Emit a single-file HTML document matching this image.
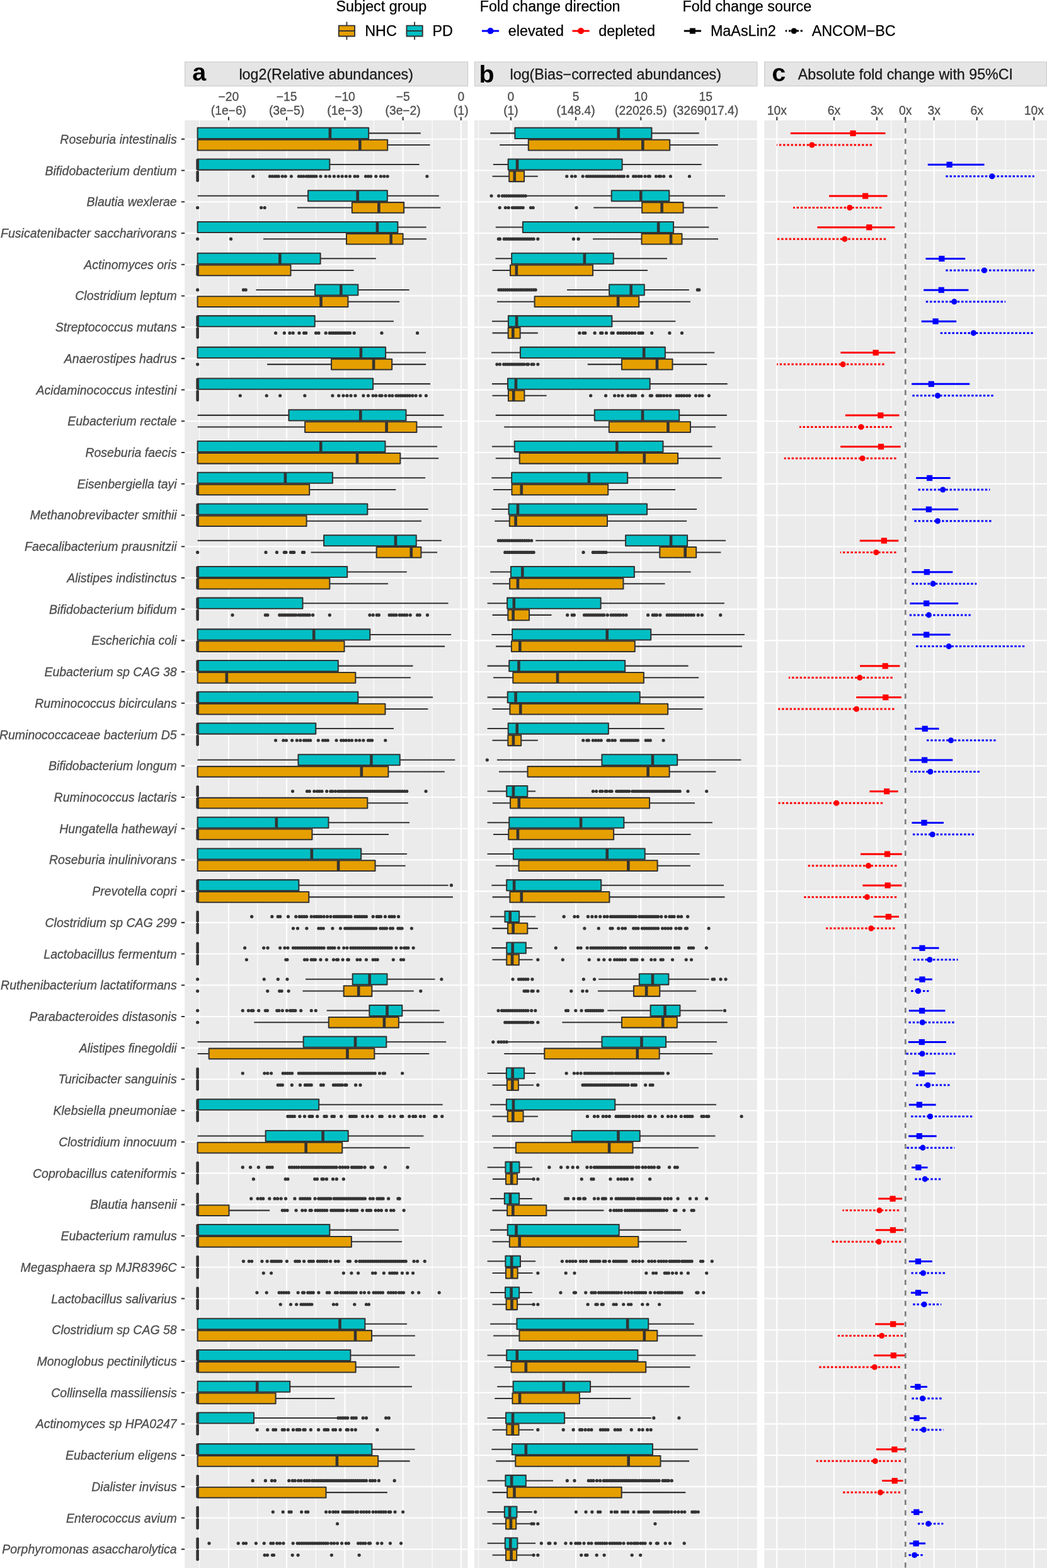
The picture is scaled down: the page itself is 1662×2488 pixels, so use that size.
<!DOCTYPE html>
<html lang="en"><head><meta charset="utf-8"><title>Differential abundance figure</title>
<style>html,body{margin:0;padding:0;background:#fff}svg{display:block}</style></head>
<body>
<svg width="1662" height="2488" viewBox="0 0 1662 2488" font-family="'Liberation Sans', Arial, Helvetica, sans-serif">
<rect width="1662" height="2488" fill="#fff"/>
<text x="533.5" y="18.2" font-size="23.3" fill="#000" stroke="#000" stroke-width="0.25">Subject group</text>
<text x="761.8" y="18.2" font-size="23.3" fill="#000" stroke="#000" stroke-width="0.25">Fold change direction</text>
<text x="1083.6" y="18.2" font-size="23.3" fill="#000" stroke="#000" stroke-width="0.25">Fold change source</text>
<path d="M550.4 34.6V63.2" stroke="#333333" stroke-width="1.9"/>
<rect x="537.75" y="40.6" width="25.3" height="16.9" fill="#E69F00" stroke="#333333" stroke-width="1.9" stroke-linejoin="round"/>
<path d="M537.75 49.05H563.05" stroke="#333333" stroke-width="1.9"/>
<text x="579.2" y="57.2" font-size="23.35" fill="#000" stroke="#000" stroke-width="0.25">NHC</text>
<path d="M658.1 34.6V63.2" stroke="#333333" stroke-width="1.9"/>
<rect x="645.45" y="40.6" width="25.3" height="16.9" fill="#00BFC4" stroke="#333333" stroke-width="1.9" stroke-linejoin="round"/>
<path d="M645.45 49.05H670.75" stroke="#333333" stroke-width="1.9"/>
<text x="686.5" y="57.2" font-size="23.35" fill="#000" stroke="#000" stroke-width="0.25">PD</text>
<path d="M764.9 49.1H792.1" stroke="#0000FF" stroke-width="3.0"/>
<circle cx="778.5" cy="49.1" r="5.0" fill="#0000FF"/>
<text x="806.8" y="57.2" font-size="23.35" fill="#000" stroke="#000" stroke-width="0.25">elevated</text>
<path d="M908.5 49.1H935.7" stroke="#FF0000" stroke-width="3.0"/>
<circle cx="922.1" cy="49.1" r="5.0" fill="#FF0000"/>
<text x="950.3" y="57.2" font-size="23.35" fill="#000" stroke="#000" stroke-width="0.25">depleted</text>
<path d="M1085.8 49.1H1113" stroke="#000" stroke-width="3.0"/>
<rect x="1094.9" y="44.6" width="9" height="9" fill="#000"/>
<text x="1127.9" y="57.2" font-size="23.35" fill="#000" stroke="#000" stroke-width="0.25">MaAsLin2</text>
<path d="M1246.7 49.1H1273.9" stroke="#000" stroke-width="3.0" stroke-dasharray="3.45 2.8" stroke-dashoffset="1.0"/>
<circle cx="1260.3" cy="49.1" r="4.7" fill="#000"/>
<text x="1288.7" y="57.2" font-size="23.35" fill="#000" stroke="#000" stroke-width="0.25">ANCOM−BC</text>
<rect x="293.6" y="98.3" width="448.9" height="38.2" fill="#E5E5E5" stroke="#CCCCCC" stroke-width="1.2"/>
<text x="305.35" y="128.4" font-size="39.5" font-weight="bold" fill="#000">a</text>
<text x="379.4" y="126.2" font-size="23.25" fill="#1A1A1A" stroke="#1A1A1A" stroke-width="0.3">log2(Relative abundances)</text>
<rect x="753.55" y="98.3" width="448.25" height="38.2" fill="#E5E5E5" stroke="#CCCCCC" stroke-width="1.2"/>
<text x="760.4" y="131.3" font-size="39.5" font-weight="bold" fill="#000">b</text>
<text x="809.6" y="126.2" font-size="23.25" fill="#1A1A1A" stroke="#1A1A1A" stroke-width="0.3">log(Bias−corrected abundances)</text>
<rect x="1213.65" y="98.3" width="447.85" height="38.2" fill="#E5E5E5" stroke="#CCCCCC" stroke-width="1.2"/>
<text x="1225.15" y="128.8" font-size="39.5" font-weight="bold" fill="#000">c</text>
<text x="1266.8" y="126.2" font-size="23.25" fill="#1A1A1A" stroke="#1A1A1A" stroke-width="0.3">Absolute fold change with 95%CI</text>
<rect x="293.15" y="191" width="449.35" height="2299" fill="#EBEBEB"/>
<path d="M316.67 191V2490M408.82 191V2490M501.27 191V2490M593.41 191V2490M686.16 191V2490" stroke="#fff" stroke-width="1.05" fill="none"/>
<path d="M362.9 191V2490M455.04 191V2490M547.49 191V2490M639.63 191V2490M731.78 191V2490M293.15 220.8H742.5M293.15 270.52H742.5M293.15 320.24H742.5M293.15 369.97H742.5M293.15 419.69H742.5M293.15 469.41H742.5M293.15 519.13H742.5M293.15 568.85H742.5M293.15 618.58H742.5M293.15 668.3H742.5M293.15 718.02H742.5M293.15 767.74H742.5M293.15 817.46H742.5M293.15 867.19H742.5M293.15 916.91H742.5M293.15 966.63H742.5M293.15 1016.35H742.5M293.15 1066.07H742.5M293.15 1115.8H742.5M293.15 1165.52H742.5M293.15 1215.24H742.5M293.15 1264.96H742.5M293.15 1314.68H742.5M293.15 1364.41H742.5M293.15 1414.13H742.5M293.15 1463.85H742.5M293.15 1513.57H742.5M293.15 1563.29H742.5M293.15 1613.02H742.5M293.15 1662.74H742.5M293.15 1712.46H742.5M293.15 1762.18H742.5M293.15 1811.9H742.5M293.15 1861.63H742.5M293.15 1911.35H742.5M293.15 1961.07H742.5M293.15 2010.79H742.5M293.15 2060.51H742.5M293.15 2110.24H742.5M293.15 2159.96H742.5M293.15 2209.68H742.5M293.15 2259.4H742.5M293.15 2309.12H742.5M293.15 2358.85H742.5M293.15 2408.57H742.5M293.15 2458.29H742.5" stroke="#fff" stroke-width="2.1" fill="none"/>
<rect x="753.1" y="191" width="448.7" height="2299" fill="#EBEBEB"/>
<path d="M759.53 191V2490M862.69 191V2490M965.86 191V2490M1068.71 191V2490M1171.57 191V2490" stroke="#fff" stroke-width="1.05" fill="none"/>
<path d="M810.96 191V2490M914.12 191V2490M1017.29 191V2490M1120.14 191V2490M753.1 220.8H1201.8M753.1 270.52H1201.8M753.1 320.24H1201.8M753.1 369.97H1201.8M753.1 419.69H1201.8M753.1 469.41H1201.8M753.1 519.13H1201.8M753.1 568.85H1201.8M753.1 618.58H1201.8M753.1 668.3H1201.8M753.1 718.02H1201.8M753.1 767.74H1201.8M753.1 817.46H1201.8M753.1 867.19H1201.8M753.1 916.91H1201.8M753.1 966.63H1201.8M753.1 1016.35H1201.8M753.1 1066.07H1201.8M753.1 1115.8H1201.8M753.1 1165.52H1201.8M753.1 1215.24H1201.8M753.1 1264.96H1201.8M753.1 1314.68H1201.8M753.1 1364.41H1201.8M753.1 1414.13H1201.8M753.1 1463.85H1201.8M753.1 1513.57H1201.8M753.1 1563.29H1201.8M753.1 1613.02H1201.8M753.1 1662.74H1201.8M753.1 1712.46H1201.8M753.1 1762.18H1201.8M753.1 1811.9H1201.8M753.1 1861.63H1201.8M753.1 1911.35H1201.8M753.1 1961.07H1201.8M753.1 2010.79H1201.8M753.1 2060.51H1201.8M753.1 2110.24H1201.8M753.1 2159.96H1201.8M753.1 2209.68H1201.8M753.1 2259.4H1201.8M753.1 2309.12H1201.8M753.1 2358.85H1201.8M753.1 2408.57H1201.8M753.1 2458.29H1201.8" stroke="#fff" stroke-width="2.1" fill="none"/>
<rect x="1213.2" y="191" width="449.3" height="2299" fill="#EBEBEB"/>
<path d="M1278.61 191V2490M1357.95 191V2490M1414.63 191V2490M1459.97 191V2490M1516.64 191V2490M1595.99 191V2490" stroke="#fff" stroke-width="1.05" fill="none"/>
<path d="M1233.27 191V2490M1323.95 191V2490M1391.96 191V2490M1437.3 191V2490M1482.64 191V2490M1550.65 191V2490M1641.33 191V2490M1213.2 220.8H1662.5M1213.2 270.52H1662.5M1213.2 320.24H1662.5M1213.2 369.97H1662.5M1213.2 419.69H1662.5M1213.2 469.41H1662.5M1213.2 519.13H1662.5M1213.2 568.85H1662.5M1213.2 618.58H1662.5M1213.2 668.3H1662.5M1213.2 718.02H1662.5M1213.2 767.74H1662.5M1213.2 817.46H1662.5M1213.2 867.19H1662.5M1213.2 916.91H1662.5M1213.2 966.63H1662.5M1213.2 1016.35H1662.5M1213.2 1066.07H1662.5M1213.2 1115.8H1662.5M1213.2 1165.52H1662.5M1213.2 1215.24H1662.5M1213.2 1264.96H1662.5M1213.2 1314.68H1662.5M1213.2 1364.41H1662.5M1213.2 1414.13H1662.5M1213.2 1463.85H1662.5M1213.2 1513.57H1662.5M1213.2 1563.29H1662.5M1213.2 1613.02H1662.5M1213.2 1662.74H1662.5M1213.2 1712.46H1662.5M1213.2 1762.18H1662.5M1213.2 1811.9H1662.5M1213.2 1861.63H1662.5M1213.2 1911.35H1662.5M1213.2 1961.07H1662.5M1213.2 2010.79H1662.5M1213.2 2060.51H1662.5M1213.2 2110.24H1662.5M1213.2 2159.96H1662.5M1213.2 2209.68H1662.5M1213.2 2259.4H1662.5M1213.2 2309.12H1662.5M1213.2 2358.85H1662.5M1213.2 2408.57H1662.5M1213.2 2458.29H1662.5" stroke="#fff" stroke-width="2.1" fill="none"/>
<path d="M362.9 191v-5.4M455.04 191v-5.4M547.49 191v-5.4M639.63 191v-5.4M731.78 191v-5.4" stroke="#333333" stroke-width="2.05" fill="none"/>
<text x="362.9" y="160.4" font-size="19.3" fill="#4D4D4D" stroke="#4D4D4D" stroke-width="0.3" text-anchor="middle">−20</text>
<text x="362.9" y="181.9" font-size="19.3" fill="#4D4D4D" stroke="#4D4D4D" stroke-width="0.3" text-anchor="middle">(1e−6)</text>
<text x="455.04" y="160.4" font-size="19.3" fill="#4D4D4D" stroke="#4D4D4D" stroke-width="0.3" text-anchor="middle">−15</text>
<text x="455.04" y="181.9" font-size="19.3" fill="#4D4D4D" stroke="#4D4D4D" stroke-width="0.3" text-anchor="middle">(3e−5)</text>
<text x="547.49" y="160.4" font-size="19.3" fill="#4D4D4D" stroke="#4D4D4D" stroke-width="0.3" text-anchor="middle">−10</text>
<text x="547.49" y="181.9" font-size="19.3" fill="#4D4D4D" stroke="#4D4D4D" stroke-width="0.3" text-anchor="middle">(1e−3)</text>
<text x="639.63" y="160.4" font-size="19.3" fill="#4D4D4D" stroke="#4D4D4D" stroke-width="0.3" text-anchor="middle">−5</text>
<text x="639.63" y="181.9" font-size="19.3" fill="#4D4D4D" stroke="#4D4D4D" stroke-width="0.3" text-anchor="middle">(3e−2)</text>
<text x="731.78" y="160.4" font-size="19.3" fill="#4D4D4D" stroke="#4D4D4D" stroke-width="0.3" text-anchor="middle">0</text>
<text x="731.78" y="181.9" font-size="19.3" fill="#4D4D4D" stroke="#4D4D4D" stroke-width="0.3" text-anchor="middle">(1)</text>
<path d="M810.96 191v-5.4M914.12 191v-5.4M1017.29 191v-5.4M1120.14 191v-5.4" stroke="#333333" stroke-width="2.05" fill="none"/>
<text x="810.96" y="160.4" font-size="19.3" fill="#4D4D4D" stroke="#4D4D4D" stroke-width="0.3" text-anchor="middle">0</text>
<text x="810.96" y="181.9" font-size="19.3" fill="#4D4D4D" stroke="#4D4D4D" stroke-width="0.3" text-anchor="middle">(1)</text>
<text x="914.12" y="160.4" font-size="19.3" fill="#4D4D4D" stroke="#4D4D4D" stroke-width="0.3" text-anchor="middle">5</text>
<text x="914.12" y="181.9" font-size="19.3" fill="#4D4D4D" stroke="#4D4D4D" stroke-width="0.3" text-anchor="middle">(148.4)</text>
<text x="1017.29" y="160.4" font-size="19.3" fill="#4D4D4D" stroke="#4D4D4D" stroke-width="0.3" text-anchor="middle">10</text>
<text x="1017.29" y="181.9" font-size="19.3" fill="#4D4D4D" stroke="#4D4D4D" stroke-width="0.3" text-anchor="middle">(22026.5)</text>
<text x="1120.14" y="160.4" font-size="19.3" fill="#4D4D4D" stroke="#4D4D4D" stroke-width="0.3" text-anchor="middle">15</text>
<text x="1120.14" y="181.9" font-size="19.3" fill="#4D4D4D" stroke="#4D4D4D" stroke-width="0.3" text-anchor="middle">(3269017.4)</text>
<path d="M1233.27 191v-5.4M1323.95 191v-5.4M1391.96 191v-5.4M1437.3 191v-5.4M1482.64 191v-5.4M1550.65 191v-5.4M1641.33 191v-5.4" stroke="#333333" stroke-width="2.05" fill="none"/>
<text x="1233.27" y="181.9" font-size="19.3" fill="#4D4D4D" stroke="#4D4D4D" stroke-width="0.3" text-anchor="middle">10x</text>
<text x="1323.95" y="181.9" font-size="19.3" fill="#4D4D4D" stroke="#4D4D4D" stroke-width="0.3" text-anchor="middle">6x</text>
<text x="1391.96" y="181.9" font-size="19.3" fill="#4D4D4D" stroke="#4D4D4D" stroke-width="0.3" text-anchor="middle">3x</text>
<text x="1437.3" y="181.9" font-size="19.3" fill="#4D4D4D" stroke="#4D4D4D" stroke-width="0.3" text-anchor="middle">0x</text>
<text x="1482.64" y="181.9" font-size="19.3" fill="#4D4D4D" stroke="#4D4D4D" stroke-width="0.3" text-anchor="middle">3x</text>
<text x="1550.65" y="181.9" font-size="19.3" fill="#4D4D4D" stroke="#4D4D4D" stroke-width="0.3" text-anchor="middle">6x</text>
<text x="1641.33" y="181.9" font-size="19.3" fill="#4D4D4D" stroke="#4D4D4D" stroke-width="0.3" text-anchor="middle">10x</text>
<path d="M293.15 220.8h-5.4M293.15 270.52h-5.4M293.15 320.24h-5.4M293.15 369.97h-5.4M293.15 419.69h-5.4M293.15 469.41h-5.4M293.15 519.13h-5.4M293.15 568.85h-5.4M293.15 618.58h-5.4M293.15 668.3h-5.4M293.15 718.02h-5.4M293.15 767.74h-5.4M293.15 817.46h-5.4M293.15 867.19h-5.4M293.15 916.91h-5.4M293.15 966.63h-5.4M293.15 1016.35h-5.4M293.15 1066.07h-5.4M293.15 1115.8h-5.4M293.15 1165.52h-5.4M293.15 1215.24h-5.4M293.15 1264.96h-5.4M293.15 1314.68h-5.4M293.15 1364.41h-5.4M293.15 1414.13h-5.4M293.15 1463.85h-5.4M293.15 1513.57h-5.4M293.15 1563.29h-5.4M293.15 1613.02h-5.4M293.15 1662.74h-5.4M293.15 1712.46h-5.4M293.15 1762.18h-5.4M293.15 1811.9h-5.4M293.15 1861.63h-5.4M293.15 1911.35h-5.4M293.15 1961.07h-5.4M293.15 2010.79h-5.4M293.15 2060.51h-5.4M293.15 2110.24h-5.4M293.15 2159.96h-5.4M293.15 2209.68h-5.4M293.15 2259.4h-5.4M293.15 2309.12h-5.4M293.15 2358.85h-5.4M293.15 2408.57h-5.4M293.15 2458.29h-5.4" stroke="#333333" stroke-width="2.05" fill="none"/>
<g font-size="19.5" font-style="italic" fill="#4D4D4D" stroke="#4D4D4D" stroke-width="0.3" text-anchor="end">
<text x="280.7" y="227.8">Roseburia intestinalis</text>
<text x="280.7" y="277.52">Bifidobacterium dentium</text>
<text x="280.7" y="327.24">Blautia wexlerae</text>
<text x="280.7" y="376.97">Fusicatenibacter saccharivorans</text>
<text x="280.7" y="426.69">Actinomyces oris</text>
<text x="280.7" y="476.41">Clostridium leptum</text>
<text x="280.7" y="526.13">Streptococcus mutans</text>
<text x="280.7" y="575.85">Anaerostipes hadrus</text>
<text x="280.7" y="625.58">Acidaminococcus intestini</text>
<text x="280.7" y="675.3">Eubacterium rectale</text>
<text x="280.7" y="725.02">Roseburia faecis</text>
<text x="280.7" y="774.74">Eisenbergiella tayi</text>
<text x="280.7" y="824.46">Methanobrevibacter smithii</text>
<text x="280.7" y="874.19">Faecalibacterium prausnitzii</text>
<text x="280.7" y="923.91">Alistipes indistinctus</text>
<text x="280.7" y="973.63">Bifidobacterium bifidum</text>
<text x="280.7" y="1023.35">Escherichia coli</text>
<text x="280.7" y="1073.07">Eubacterium sp CAG 38</text>
<text x="280.7" y="1122.8">Ruminococcus bicirculans</text>
<text x="280.7" y="1172.52">Ruminococcaceae bacterium D5</text>
<text x="280.7" y="1222.24">Bifidobacterium longum</text>
<text x="280.7" y="1271.96">Ruminococcus lactaris</text>
<text x="280.7" y="1321.68">Hungatella hathewayi</text>
<text x="280.7" y="1371.41">Roseburia inulinivorans</text>
<text x="280.7" y="1421.13">Prevotella copri</text>
<text x="280.7" y="1470.85">Clostridium sp CAG 299</text>
<text x="280.7" y="1520.57">Lactobacillus fermentum</text>
<text x="280.7" y="1570.29">Ruthenibacterium lactatiformans</text>
<text x="280.7" y="1620.02">Parabacteroides distasonis</text>
<text x="280.7" y="1669.74">Alistipes finegoldii</text>
<text x="280.7" y="1719.46">Turicibacter sanguinis</text>
<text x="280.7" y="1769.18">Klebsiella pneumoniae</text>
<text x="280.7" y="1818.9">Clostridium innocuum</text>
<text x="280.7" y="1868.63">Coprobacillus cateniformis</text>
<text x="280.7" y="1918.35">Blautia hansenii</text>
<text x="280.7" y="1968.07">Eubacterium ramulus</text>
<text x="280.7" y="2017.79">Megasphaera sp MJR8396C</text>
<text x="280.7" y="2067.51">Lactobacillus salivarius</text>
<text x="280.7" y="2117.24">Clostridium sp CAG 58</text>
<text x="280.7" y="2166.96">Monoglobus pectinilyticus</text>
<text x="280.7" y="2216.68">Collinsella massiliensis</text>
<text x="280.7" y="2266.4">Actinomyces sp HPA0247</text>
<text x="280.7" y="2316.12">Eubacterium eligens</text>
<text x="280.7" y="2365.85">Dialister invisus</text>
<text x="280.7" y="2415.57">Enterococcus avium</text>
<text x="280.7" y="2465.29">Porphyromonas asaccharolytica</text>
</g>
<path d="M585.14 211.35H667.8M615.14 230.05H682.49M523.31 261.07H665.65M313.61 310.79H489.02M614.84 310.79H696.88M471.88 329.49H558.82M641.16 329.49H699.33M631.37 360.52H676.67M418 379.22H549.94M639.63 379.22H676.98M508.61 410.24H596.78M461.47 428.94H561.57M406.37 459.96H500.04M568.31 459.96H649.73M552.39 478.66H634.12M499.73 509.68H624.94M612.08 559.4H676.06M424.12 578.1H526.06M622.18 578.1H676.06M592.18 609.13H683.1M313.61 658.85H458.41M644.53 658.85H704.53M313.61 677.55H484.12M661.37 677.55H701.78M611.47 708.57H694.12M635.35 727.27H696.27M527.9 758.29H675.14M491.16 776.99H628.31M583.31 808.01H679.73M486.57 826.71H669.02M313.61 857.74H514.12M660.76 857.74H700.86M493.61 876.44H597.69M668.41 876.44H694.12M551.16 907.46H645.76M523.31 926.16H616.06M480.45 957.18H711.57M587.29 1006.9H716.16M546.57 1025.6H706.06M536.78 1056.62H655.55M564.33 1075.32H651.88M568.31 1106.35H687.08M611.47 1125.05H679.43M501.27 1156.07H624.94M313.61 1205.79H473.41M634.73 1205.79H722.29M616.37 1224.49H705.76M583.31 1274.21H647.9M521.47 1305.23H650.04M495.45 1323.93H616.98M573.2 1354.96H646.06M595.55 1373.66H643.61M474.33 1404.68H711.57M490.24 1423.38H718.92M485.04 1553.84H559.73M614.53 1553.84H690.45M480.45 1572.54H545.65M590.35 1572.54H656.78M518.71 1603.57H586.37M638.41 1603.57H697.8M403.31 1622.27H521.78M632.9 1622.27H704.84M313.61 1653.29H481.67M613.31 1653.29H708.2M313.61 1671.99H331.67M594.33 1671.99H681.27M506.16 1752.73H702.69M313.61 1802.45H421.67M552.69 1802.45H672.39M543.2 1821.15H650.65M363.51 1920.6H428.1M523.31 1951.62H632.9M557.9 1970.32H638.1M579.33 2100.79H646.06M590.04 2119.49H658.92M556.37 2150.51H658.92M564.63 2169.21H634.12M460.24 2200.23H654.02M437.59 2218.93H531.27M403 2249.95H537.08M590.35 2299.67H658.61M600.14 2318.37H650.65M517.49 2368.1H614.84" stroke="#333333" stroke-width="2.05" fill="none"/>
<g fill="#333333"><circle cx="401.78" cy="279.77" r="2.6"/><circle cx="428.41" cy="279.77" r="2.6"/><circle cx="432.23" cy="279.77" r="2.6"/><circle cx="436.06" cy="279.77" r="2.6"/><circle cx="439.12" cy="279.77" r="2.6"/><circle cx="442.18" cy="279.77" r="2.6"/><circle cx="448.31" cy="279.77" r="2.6"/><circle cx="453.2" cy="279.77" r="2.6"/><circle cx="462.39" cy="279.77" r="2.6"/><circle cx="474.33" cy="279.77" r="2.6"/><circle cx="478.15" cy="279.77" r="2.6"/><circle cx="481.98" cy="279.77" r="2.6"/><circle cx="486.57" cy="279.77" r="2.6"/><circle cx="489.63" cy="279.77" r="2.6"/><circle cx="492.69" cy="279.77" r="2.6"/><circle cx="495.76" cy="279.77" r="2.6"/><circle cx="498.82" cy="279.77" r="2.6"/><circle cx="501.88" cy="279.77" r="2.6"/><circle cx="508.92" cy="279.77" r="2.6"/><circle cx="517.18" cy="279.77" r="2.6"/><circle cx="523.31" cy="279.77" r="2.6"/><circle cx="530.35" cy="279.77" r="2.6"/><circle cx="537.08" cy="279.77" r="2.6"/><circle cx="543.2" cy="279.77" r="2.6"/><circle cx="549.33" cy="279.77" r="2.6"/><circle cx="555.45" cy="279.77" r="2.6"/><circle cx="563.1" cy="279.77" r="2.6"/><circle cx="567.69" cy="279.77" r="2.6"/><circle cx="580.55" cy="279.77" r="2.6"/><circle cx="584.53" cy="279.77" r="2.6"/><circle cx="588.51" cy="279.77" r="2.6"/><circle cx="596.78" cy="279.77" r="2.6"/><circle cx="604.43" cy="279.77" r="2.6"/><circle cx="609.79" cy="279.77" r="2.6"/><circle cx="615.14" cy="279.77" r="2.6"/><circle cx="677.9" cy="279.77" r="2.6"/><circle cx="313.61" cy="329.49" r="2.6"/><circle cx="414.63" cy="329.49" r="2.6"/><circle cx="420.14" cy="329.49" r="2.6"/><circle cx="313.61" cy="379.22" r="2.6"/><circle cx="366.57" cy="379.22" r="2.6"/><circle cx="313.61" cy="459.96" r="2.6"/><circle cx="386.47" cy="459.96" r="2.6"/><circle cx="390.14" cy="459.96" r="2.6"/><circle cx="437.59" cy="528.38" r="2.6"/><circle cx="451.37" cy="528.38" r="2.6"/><circle cx="459.94" cy="528.38" r="2.6"/><circle cx="465.14" cy="528.38" r="2.6"/><circle cx="474.94" cy="528.38" r="2.6"/><circle cx="482.59" cy="528.38" r="2.6"/><circle cx="485.65" cy="528.38" r="2.6"/><circle cx="501.57" cy="528.38" r="2.6"/><circle cx="505.86" cy="528.38" r="2.6"/><circle cx="517.18" cy="528.38" r="2.6"/><circle cx="523.31" cy="528.38" r="2.6"/><circle cx="526.52" cy="528.38" r="2.6"/><circle cx="529.73" cy="528.38" r="2.6"/><circle cx="532.95" cy="528.38" r="2.6"/><circle cx="536.16" cy="528.38" r="2.6"/><circle cx="539.38" cy="528.38" r="2.6"/><circle cx="542.59" cy="528.38" r="2.6"/><circle cx="545.81" cy="528.38" r="2.6"/><circle cx="549.02" cy="528.38" r="2.6"/><circle cx="552.23" cy="528.38" r="2.6"/><circle cx="555.45" cy="528.38" r="2.6"/><circle cx="562.18" cy="528.38" r="2.6"/><circle cx="605.96" cy="528.38" r="2.6"/><circle cx="662.59" cy="528.38" r="2.6"/><circle cx="313.61" cy="578.1" r="2.6"/><circle cx="381.27" cy="627.83" r="2.6"/><circle cx="423.2" cy="627.83" r="2.6"/><circle cx="444.63" cy="627.83" r="2.6"/><circle cx="483.82" cy="627.83" r="2.6"/><circle cx="527.9" cy="627.83" r="2.6"/><circle cx="537.69" cy="627.83" r="2.6"/><circle cx="545.04" cy="627.83" r="2.6"/><circle cx="550.86" cy="627.83" r="2.6"/><circle cx="556.98" cy="627.83" r="2.6"/><circle cx="564.02" cy="627.83" r="2.6"/><circle cx="576.88" cy="627.83" r="2.6"/><circle cx="584.53" cy="627.83" r="2.6"/><circle cx="592.18" cy="627.83" r="2.6"/><circle cx="596.78" cy="627.83" r="2.6"/><circle cx="602.9" cy="627.83" r="2.6"/><circle cx="605.96" cy="627.83" r="2.6"/><circle cx="612.08" cy="627.83" r="2.6"/><circle cx="618.2" cy="627.83" r="2.6"/><circle cx="622.8" cy="627.83" r="2.6"/><circle cx="628.92" cy="627.83" r="2.6"/><circle cx="632.49" cy="627.83" r="2.6"/><circle cx="636.06" cy="627.83" r="2.6"/><circle cx="639.63" cy="627.83" r="2.6"/><circle cx="643.2" cy="627.83" r="2.6"/><circle cx="646.78" cy="627.83" r="2.6"/><circle cx="650.35" cy="627.83" r="2.6"/><circle cx="654.94" cy="627.83" r="2.6"/><circle cx="660.14" cy="627.83" r="2.6"/><circle cx="667.18" cy="627.83" r="2.6"/><circle cx="676.37" cy="627.83" r="2.6"/><circle cx="313.61" cy="876.44" r="2.6"/><circle cx="421.98" cy="876.44" r="2.6"/><circle cx="439.43" cy="876.44" r="2.6"/><circle cx="451.37" cy="876.44" r="2.6"/><circle cx="453.82" cy="876.44" r="2.6"/><circle cx="461.47" cy="876.44" r="2.6"/><circle cx="464.22" cy="876.44" r="2.6"/><circle cx="466.67" cy="876.44" r="2.6"/><circle cx="480.45" cy="876.44" r="2.6"/><circle cx="482.59" cy="876.44" r="2.6"/><circle cx="369.02" cy="975.88" r="2.6"/><circle cx="421.37" cy="975.88" r="2.6"/><circle cx="424.73" cy="975.88" r="2.6"/><circle cx="443.71" cy="975.88" r="2.6"/><circle cx="446.97" cy="975.88" r="2.6"/><circle cx="450.22" cy="975.88" r="2.6"/><circle cx="453.47" cy="975.88" r="2.6"/><circle cx="456.72" cy="975.88" r="2.6"/><circle cx="459.98" cy="975.88" r="2.6"/><circle cx="463.23" cy="975.88" r="2.6"/><circle cx="466.48" cy="975.88" r="2.6"/><circle cx="469.73" cy="975.88" r="2.6"/><circle cx="474.33" cy="975.88" r="2.6"/><circle cx="477.69" cy="975.88" r="2.6"/><circle cx="481.06" cy="975.88" r="2.6"/><circle cx="484.43" cy="975.88" r="2.6"/><circle cx="487.8" cy="975.88" r="2.6"/><circle cx="491.16" cy="975.88" r="2.6"/><circle cx="496.67" cy="975.88" r="2.6"/><circle cx="523.31" cy="975.88" r="2.6"/><circle cx="586.98" cy="975.88" r="2.6"/><circle cx="592.18" cy="975.88" r="2.6"/><circle cx="598.31" cy="975.88" r="2.6"/><circle cx="601.37" cy="975.88" r="2.6"/><circle cx="618.2" cy="975.88" r="2.6"/><circle cx="621.78" cy="975.88" r="2.6"/><circle cx="625.35" cy="975.88" r="2.6"/><circle cx="628.92" cy="975.88" r="2.6"/><circle cx="634.43" cy="975.88" r="2.6"/><circle cx="638.2" cy="975.88" r="2.6"/><circle cx="641.98" cy="975.88" r="2.6"/><circle cx="645.76" cy="975.88" r="2.6"/><circle cx="651.27" cy="975.88" r="2.6"/><circle cx="662.59" cy="975.88" r="2.6"/><circle cx="666.27" cy="975.88" r="2.6"/><circle cx="678.51" cy="975.88" r="2.6"/><circle cx="437.59" cy="1174.77" r="2.6"/><circle cx="449.84" cy="1174.77" r="2.6"/><circle cx="454.43" cy="1174.77" r="2.6"/><circle cx="463.61" cy="1174.77" r="2.6"/><circle cx="471.27" cy="1174.77" r="2.6"/><circle cx="476.78" cy="1174.77" r="2.6"/><circle cx="482.59" cy="1174.77" r="2.6"/><circle cx="485.96" cy="1174.77" r="2.6"/><circle cx="489.33" cy="1174.77" r="2.6"/><circle cx="492.69" cy="1174.77" r="2.6"/><circle cx="505.24" cy="1174.77" r="2.6"/><circle cx="512.59" cy="1174.77" r="2.6"/><circle cx="516.42" cy="1174.77" r="2.6"/><circle cx="520.24" cy="1174.77" r="2.6"/><circle cx="534.02" cy="1174.77" r="2.6"/><circle cx="541.67" cy="1174.77" r="2.6"/><circle cx="545.5" cy="1174.77" r="2.6"/><circle cx="549.33" cy="1174.77" r="2.6"/><circle cx="553.92" cy="1174.77" r="2.6"/><circle cx="558.51" cy="1174.77" r="2.6"/><circle cx="565.24" cy="1174.77" r="2.6"/><circle cx="570.76" cy="1174.77" r="2.6"/><circle cx="576.88" cy="1174.77" r="2.6"/><circle cx="584.53" cy="1174.77" r="2.6"/><circle cx="587.59" cy="1174.77" r="2.6"/><circle cx="590.65" cy="1174.77" r="2.6"/><circle cx="611.78" cy="1174.77" r="2.6"/><circle cx="464.53" cy="1255.51" r="2.6"/><circle cx="487.49" cy="1255.51" r="2.6"/><circle cx="491.16" cy="1255.51" r="2.6"/><circle cx="498.82" cy="1255.51" r="2.6"/><circle cx="503.41" cy="1255.51" r="2.6"/><circle cx="507.23" cy="1255.51" r="2.6"/><circle cx="511.06" cy="1255.51" r="2.6"/><circle cx="518.71" cy="1255.51" r="2.6"/><circle cx="524.84" cy="1255.51" r="2.6"/><circle cx="527.9" cy="1255.51" r="2.6"/><circle cx="532.49" cy="1255.51" r="2.6"/><circle cx="537.08" cy="1255.51" r="2.6"/><circle cx="540.45" cy="1255.51" r="2.6"/><circle cx="543.82" cy="1255.51" r="2.6"/><circle cx="547.18" cy="1255.51" r="2.6"/><circle cx="550.55" cy="1255.51" r="2.6"/><circle cx="553.92" cy="1255.51" r="2.6"/><circle cx="556.98" cy="1255.51" r="2.6"/><circle cx="560.39" cy="1255.51" r="2.6"/><circle cx="563.8" cy="1255.51" r="2.6"/><circle cx="567.21" cy="1255.51" r="2.6"/><circle cx="570.62" cy="1255.51" r="2.6"/><circle cx="574.03" cy="1255.51" r="2.6"/><circle cx="577.43" cy="1255.51" r="2.6"/><circle cx="580.84" cy="1255.51" r="2.6"/><circle cx="584.25" cy="1255.51" r="2.6"/><circle cx="587.66" cy="1255.51" r="2.6"/><circle cx="591.07" cy="1255.51" r="2.6"/><circle cx="594.48" cy="1255.51" r="2.6"/><circle cx="597.89" cy="1255.51" r="2.6"/><circle cx="601.3" cy="1255.51" r="2.6"/><circle cx="604.71" cy="1255.51" r="2.6"/><circle cx="608.12" cy="1255.51" r="2.6"/><circle cx="611.53" cy="1255.51" r="2.6"/><circle cx="614.93" cy="1255.51" r="2.6"/><circle cx="618.34" cy="1255.51" r="2.6"/><circle cx="621.75" cy="1255.51" r="2.6"/><circle cx="625.16" cy="1255.51" r="2.6"/><circle cx="628.57" cy="1255.51" r="2.6"/><circle cx="631.98" cy="1255.51" r="2.6"/><circle cx="635.04" cy="1255.51" r="2.6"/><circle cx="638.61" cy="1255.51" r="2.6"/><circle cx="642.18" cy="1255.51" r="2.6"/><circle cx="645.76" cy="1255.51" r="2.6"/><circle cx="676.06" cy="1255.51" r="2.6"/><circle cx="716.47" cy="1404.68" r="2.6"/><circle cx="399.63" cy="1454.4" r="2.6"/><circle cx="431.78" cy="1454.4" r="2.6"/><circle cx="441.27" cy="1454.4" r="2.6"/><circle cx="444.63" cy="1454.4" r="2.6"/><circle cx="457.49" cy="1454.4" r="2.6"/><circle cx="469.73" cy="1454.4" r="2.6"/><circle cx="475.24" cy="1454.4" r="2.6"/><circle cx="479.02" cy="1454.4" r="2.6"/><circle cx="482.8" cy="1454.4" r="2.6"/><circle cx="486.57" cy="1454.4" r="2.6"/><circle cx="494.22" cy="1454.4" r="2.6"/><circle cx="498.82" cy="1454.4" r="2.6"/><circle cx="502.39" cy="1454.4" r="2.6"/><circle cx="505.96" cy="1454.4" r="2.6"/><circle cx="509.53" cy="1454.4" r="2.6"/><circle cx="514.12" cy="1454.4" r="2.6"/><circle cx="519.48" cy="1454.4" r="2.6"/><circle cx="524.84" cy="1454.4" r="2.6"/><circle cx="530.35" cy="1454.4" r="2.6"/><circle cx="533.68" cy="1454.4" r="2.6"/><circle cx="537.01" cy="1454.4" r="2.6"/><circle cx="540.33" cy="1454.4" r="2.6"/><circle cx="543.66" cy="1454.4" r="2.6"/><circle cx="546.99" cy="1454.4" r="2.6"/><circle cx="550.32" cy="1454.4" r="2.6"/><circle cx="553.65" cy="1454.4" r="2.6"/><circle cx="556.98" cy="1454.4" r="2.6"/><circle cx="564.02" cy="1454.4" r="2.6"/><circle cx="567.51" cy="1454.4" r="2.6"/><circle cx="571" cy="1454.4" r="2.6"/><circle cx="574.49" cy="1454.4" r="2.6"/><circle cx="577.98" cy="1454.4" r="2.6"/><circle cx="581.47" cy="1454.4" r="2.6"/><circle cx="592.18" cy="1454.4" r="2.6"/><circle cx="598.31" cy="1454.4" r="2.6"/><circle cx="601.37" cy="1454.4" r="2.6"/><circle cx="604.43" cy="1454.4" r="2.6"/><circle cx="611.47" cy="1454.4" r="2.6"/><circle cx="618.2" cy="1454.4" r="2.6"/><circle cx="622.03" cy="1454.4" r="2.6"/><circle cx="625.86" cy="1454.4" r="2.6"/><circle cx="632.59" cy="1454.4" r="2.6"/><circle cx="465.45" cy="1473.1" r="2.6"/><circle cx="472.49" cy="1473.1" r="2.6"/><circle cx="486.88" cy="1473.1" r="2.6"/><circle cx="505.86" cy="1473.1" r="2.6"/><circle cx="509.53" cy="1473.1" r="2.6"/><circle cx="513.2" cy="1473.1" r="2.6"/><circle cx="527.9" cy="1473.1" r="2.6"/><circle cx="540.45" cy="1473.1" r="2.6"/><circle cx="547.8" cy="1473.1" r="2.6"/><circle cx="551.06" cy="1473.1" r="2.6"/><circle cx="554.33" cy="1473.1" r="2.6"/><circle cx="557.59" cy="1473.1" r="2.6"/><circle cx="560.86" cy="1473.1" r="2.6"/><circle cx="564.12" cy="1473.1" r="2.6"/><circle cx="567.39" cy="1473.1" r="2.6"/><circle cx="570.65" cy="1473.1" r="2.6"/><circle cx="573.92" cy="1473.1" r="2.6"/><circle cx="577.18" cy="1473.1" r="2.6"/><circle cx="580.45" cy="1473.1" r="2.6"/><circle cx="583.71" cy="1473.1" r="2.6"/><circle cx="586.98" cy="1473.1" r="2.6"/><circle cx="590.24" cy="1473.1" r="2.6"/><circle cx="593.51" cy="1473.1" r="2.6"/><circle cx="596.78" cy="1473.1" r="2.6"/><circle cx="603.82" cy="1473.1" r="2.6"/><circle cx="607.08" cy="1473.1" r="2.6"/><circle cx="610.35" cy="1473.1" r="2.6"/><circle cx="613.61" cy="1473.1" r="2.6"/><circle cx="619.73" cy="1473.1" r="2.6"/><circle cx="623.41" cy="1473.1" r="2.6"/><circle cx="631.98" cy="1473.1" r="2.6"/><circle cx="635.04" cy="1473.1" r="2.6"/><circle cx="638.1" cy="1473.1" r="2.6"/><circle cx="653.41" cy="1473.1" r="2.6"/><circle cx="388.61" cy="1504.12" r="2.6"/><circle cx="418.61" cy="1504.12" r="2.6"/><circle cx="425.04" cy="1504.12" r="2.6"/><circle cx="444.63" cy="1504.12" r="2.6"/><circle cx="451.98" cy="1504.12" r="2.6"/><circle cx="456.88" cy="1504.12" r="2.6"/><circle cx="465.45" cy="1504.12" r="2.6"/><circle cx="468.99" cy="1504.12" r="2.6"/><circle cx="472.52" cy="1504.12" r="2.6"/><circle cx="476.06" cy="1504.12" r="2.6"/><circle cx="479.6" cy="1504.12" r="2.6"/><circle cx="483.14" cy="1504.12" r="2.6"/><circle cx="486.67" cy="1504.12" r="2.6"/><circle cx="490.21" cy="1504.12" r="2.6"/><circle cx="493.75" cy="1504.12" r="2.6"/><circle cx="497.29" cy="1504.12" r="2.6"/><circle cx="500.35" cy="1504.12" r="2.6"/><circle cx="503.79" cy="1504.12" r="2.6"/><circle cx="507.23" cy="1504.12" r="2.6"/><circle cx="510.68" cy="1504.12" r="2.6"/><circle cx="514.12" cy="1504.12" r="2.6"/><circle cx="521.16" cy="1504.12" r="2.6"/><circle cx="524.43" cy="1504.12" r="2.6"/><circle cx="527.69" cy="1504.12" r="2.6"/><circle cx="530.96" cy="1504.12" r="2.6"/><circle cx="537.69" cy="1504.12" r="2.6"/><circle cx="545.65" cy="1504.12" r="2.6"/><circle cx="550.86" cy="1504.12" r="2.6"/><circle cx="556.98" cy="1504.12" r="2.6"/><circle cx="560.36" cy="1504.12" r="2.6"/><circle cx="563.75" cy="1504.12" r="2.6"/><circle cx="567.13" cy="1504.12" r="2.6"/><circle cx="570.51" cy="1504.12" r="2.6"/><circle cx="573.9" cy="1504.12" r="2.6"/><circle cx="577.28" cy="1504.12" r="2.6"/><circle cx="580.66" cy="1504.12" r="2.6"/><circle cx="584.05" cy="1504.12" r="2.6"/><circle cx="587.43" cy="1504.12" r="2.6"/><circle cx="590.81" cy="1504.12" r="2.6"/><circle cx="594.2" cy="1504.12" r="2.6"/><circle cx="597.58" cy="1504.12" r="2.6"/><circle cx="600.96" cy="1504.12" r="2.6"/><circle cx="604.35" cy="1504.12" r="2.6"/><circle cx="607.73" cy="1504.12" r="2.6"/><circle cx="611.11" cy="1504.12" r="2.6"/><circle cx="614.5" cy="1504.12" r="2.6"/><circle cx="617.88" cy="1504.12" r="2.6"/><circle cx="621.27" cy="1504.12" r="2.6"/><circle cx="628.92" cy="1504.12" r="2.6"/><circle cx="636.57" cy="1504.12" r="2.6"/><circle cx="641.78" cy="1504.12" r="2.6"/><circle cx="644.84" cy="1504.12" r="2.6"/><circle cx="647.9" cy="1504.12" r="2.6"/><circle cx="656.16" cy="1504.12" r="2.6"/><circle cx="391.37" cy="1522.82" r="2.6"/><circle cx="453.82" cy="1522.82" r="2.6"/><circle cx="455.96" cy="1522.82" r="2.6"/><circle cx="483.51" cy="1522.82" r="2.6"/><circle cx="487.49" cy="1522.82" r="2.6"/><circle cx="494.22" cy="1522.82" r="2.6"/><circle cx="497.29" cy="1522.82" r="2.6"/><circle cx="500.35" cy="1522.82" r="2.6"/><circle cx="508.92" cy="1522.82" r="2.6"/><circle cx="518.41" cy="1522.82" r="2.6"/><circle cx="529.43" cy="1522.82" r="2.6"/><circle cx="534.63" cy="1522.82" r="2.6"/><circle cx="536.47" cy="1522.82" r="2.6"/><circle cx="544.12" cy="1522.82" r="2.6"/><circle cx="551.78" cy="1522.82" r="2.6"/><circle cx="553.31" cy="1522.82" r="2.6"/><circle cx="567.08" cy="1522.82" r="2.6"/><circle cx="571.67" cy="1522.82" r="2.6"/><circle cx="581.47" cy="1522.82" r="2.6"/><circle cx="592.18" cy="1522.82" r="2.6"/><circle cx="595.86" cy="1522.82" r="2.6"/><circle cx="599.22" cy="1522.82" r="2.6"/><circle cx="624.33" cy="1522.82" r="2.6"/><circle cx="636.57" cy="1522.82" r="2.6"/><circle cx="640.55" cy="1522.82" r="2.6"/><circle cx="313.61" cy="1553.84" r="2.6"/><circle cx="419.22" cy="1553.84" r="2.6"/><circle cx="441.27" cy="1553.84" r="2.6"/><circle cx="455.96" cy="1553.84" r="2.6"/><circle cx="700.86" cy="1553.84" r="2.6"/><circle cx="313.61" cy="1572.54" r="2.6"/><circle cx="424.73" cy="1572.54" r="2.6"/><circle cx="443.71" cy="1572.54" r="2.6"/><circle cx="447.08" cy="1572.54" r="2.6"/><circle cx="458.1" cy="1572.54" r="2.6"/><circle cx="667.8" cy="1572.54" r="2.6"/><circle cx="313.61" cy="1603.57" r="2.6"/><circle cx="385.24" cy="1603.57" r="2.6"/><circle cx="394.43" cy="1603.57" r="2.6"/><circle cx="399.33" cy="1603.57" r="2.6"/><circle cx="401.78" cy="1603.57" r="2.6"/><circle cx="410.65" cy="1603.57" r="2.6"/><circle cx="421.37" cy="1603.57" r="2.6"/><circle cx="424.43" cy="1603.57" r="2.6"/><circle cx="439.73" cy="1603.57" r="2.6"/><circle cx="442.8" cy="1603.57" r="2.6"/><circle cx="448.31" cy="1603.57" r="2.6"/><circle cx="455.35" cy="1603.57" r="2.6"/><circle cx="460.55" cy="1603.57" r="2.6"/><circle cx="463.31" cy="1603.57" r="2.6"/><circle cx="466.06" cy="1603.57" r="2.6"/><circle cx="468.82" cy="1603.57" r="2.6"/><circle cx="477.69" cy="1603.57" r="2.6"/><circle cx="494.22" cy="1603.57" r="2.6"/><circle cx="501.27" cy="1603.57" r="2.6"/><circle cx="313.61" cy="1622.27" r="2.6"/><circle cx="385.24" cy="1703.01" r="2.6"/><circle cx="419.84" cy="1703.01" r="2.6"/><circle cx="424.73" cy="1703.01" r="2.6"/><circle cx="430.55" cy="1703.01" r="2.6"/><circle cx="449.22" cy="1703.01" r="2.6"/><circle cx="452.82" cy="1703.01" r="2.6"/><circle cx="456.42" cy="1703.01" r="2.6"/><circle cx="460.02" cy="1703.01" r="2.6"/><circle cx="463.61" cy="1703.01" r="2.6"/><circle cx="474.33" cy="1703.01" r="2.6"/><circle cx="477.69" cy="1703.01" r="2.6"/><circle cx="481.04" cy="1703.01" r="2.6"/><circle cx="484.4" cy="1703.01" r="2.6"/><circle cx="487.76" cy="1703.01" r="2.6"/><circle cx="491.12" cy="1703.01" r="2.6"/><circle cx="494.48" cy="1703.01" r="2.6"/><circle cx="497.84" cy="1703.01" r="2.6"/><circle cx="501.2" cy="1703.01" r="2.6"/><circle cx="504.56" cy="1703.01" r="2.6"/><circle cx="507.91" cy="1703.01" r="2.6"/><circle cx="511.27" cy="1703.01" r="2.6"/><circle cx="514.63" cy="1703.01" r="2.6"/><circle cx="517.99" cy="1703.01" r="2.6"/><circle cx="521.35" cy="1703.01" r="2.6"/><circle cx="524.71" cy="1703.01" r="2.6"/><circle cx="528.07" cy="1703.01" r="2.6"/><circle cx="531.43" cy="1703.01" r="2.6"/><circle cx="534.79" cy="1703.01" r="2.6"/><circle cx="538.14" cy="1703.01" r="2.6"/><circle cx="541.5" cy="1703.01" r="2.6"/><circle cx="544.86" cy="1703.01" r="2.6"/><circle cx="548.22" cy="1703.01" r="2.6"/><circle cx="551.58" cy="1703.01" r="2.6"/><circle cx="554.94" cy="1703.01" r="2.6"/><circle cx="558.3" cy="1703.01" r="2.6"/><circle cx="561.66" cy="1703.01" r="2.6"/><circle cx="565.02" cy="1703.01" r="2.6"/><circle cx="568.37" cy="1703.01" r="2.6"/><circle cx="571.73" cy="1703.01" r="2.6"/><circle cx="575.09" cy="1703.01" r="2.6"/><circle cx="578.45" cy="1703.01" r="2.6"/><circle cx="581.81" cy="1703.01" r="2.6"/><circle cx="585.17" cy="1703.01" r="2.6"/><circle cx="588.53" cy="1703.01" r="2.6"/><circle cx="591.89" cy="1703.01" r="2.6"/><circle cx="595.24" cy="1703.01" r="2.6"/><circle cx="602.59" cy="1703.01" r="2.6"/><circle cx="608.1" cy="1703.01" r="2.6"/><circle cx="610.55" cy="1703.01" r="2.6"/><circle cx="638.71" cy="1703.01" r="2.6"/><circle cx="441.27" cy="1721.71" r="2.6"/><circle cx="444.79" cy="1721.71" r="2.6"/><circle cx="448.31" cy="1721.71" r="2.6"/><circle cx="463.31" cy="1721.71" r="2.6"/><circle cx="476.47" cy="1721.71" r="2.6"/><circle cx="484.43" cy="1721.71" r="2.6"/><circle cx="487.69" cy="1721.71" r="2.6"/><circle cx="490.96" cy="1721.71" r="2.6"/><circle cx="494.22" cy="1721.71" r="2.6"/><circle cx="509.53" cy="1721.71" r="2.6"/><circle cx="513.2" cy="1721.71" r="2.6"/><circle cx="529.43" cy="1721.71" r="2.6"/><circle cx="532.87" cy="1721.71" r="2.6"/><circle cx="536.32" cy="1721.71" r="2.6"/><circle cx="539.76" cy="1721.71" r="2.6"/><circle cx="543.2" cy="1721.71" r="2.6"/><circle cx="547.8" cy="1721.71" r="2.6"/><circle cx="549.94" cy="1721.71" r="2.6"/><circle cx="564.63" cy="1721.71" r="2.6"/><circle cx="571.98" cy="1721.71" r="2.6"/><circle cx="456.88" cy="1771.43" r="2.6"/><circle cx="460.35" cy="1771.43" r="2.6"/><circle cx="463.82" cy="1771.43" r="2.6"/><circle cx="467.29" cy="1771.43" r="2.6"/><circle cx="475.86" cy="1771.43" r="2.6"/><circle cx="483.51" cy="1771.43" r="2.6"/><circle cx="491.16" cy="1771.43" r="2.6"/><circle cx="493.46" cy="1771.43" r="2.6"/><circle cx="495.76" cy="1771.43" r="2.6"/><circle cx="503.71" cy="1771.43" r="2.6"/><circle cx="515.04" cy="1771.43" r="2.6"/><circle cx="518.1" cy="1771.43" r="2.6"/><circle cx="526.98" cy="1771.43" r="2.6"/><circle cx="530.35" cy="1771.43" r="2.6"/><circle cx="541.67" cy="1771.43" r="2.6"/><circle cx="555.45" cy="1771.43" r="2.6"/><circle cx="558.71" cy="1771.43" r="2.6"/><circle cx="561.98" cy="1771.43" r="2.6"/><circle cx="565.24" cy="1771.43" r="2.6"/><circle cx="575.65" cy="1771.43" r="2.6"/><circle cx="583.31" cy="1771.43" r="2.6"/><circle cx="590.65" cy="1771.43" r="2.6"/><circle cx="602.9" cy="1771.43" r="2.6"/><circle cx="606.27" cy="1771.43" r="2.6"/><circle cx="618.82" cy="1771.43" r="2.6"/><circle cx="625.55" cy="1771.43" r="2.6"/><circle cx="636.57" cy="1771.43" r="2.6"/><circle cx="638.71" cy="1771.43" r="2.6"/><circle cx="649.73" cy="1771.43" r="2.6"/><circle cx="655.86" cy="1771.43" r="2.6"/><circle cx="659.53" cy="1771.43" r="2.6"/><circle cx="667.49" cy="1771.43" r="2.6"/><circle cx="673.31" cy="1771.43" r="2.6"/><circle cx="690.14" cy="1771.43" r="2.6"/><circle cx="692.29" cy="1771.43" r="2.6"/><circle cx="701.78" cy="1771.43" r="2.6"/><circle cx="385.24" cy="1852.18" r="2.6"/><circle cx="397.49" cy="1852.18" r="2.6"/><circle cx="410.35" cy="1852.18" r="2.6"/><circle cx="424.43" cy="1852.18" r="2.6"/><circle cx="428.26" cy="1852.18" r="2.6"/><circle cx="432.08" cy="1852.18" r="2.6"/><circle cx="459.63" cy="1852.18" r="2.6"/><circle cx="463.31" cy="1852.18" r="2.6"/><circle cx="466.98" cy="1852.18" r="2.6"/><circle cx="470.65" cy="1852.18" r="2.6"/><circle cx="474.33" cy="1852.18" r="2.6"/><circle cx="478.92" cy="1852.18" r="2.6"/><circle cx="482.49" cy="1852.18" r="2.6"/><circle cx="486.06" cy="1852.18" r="2.6"/><circle cx="489.63" cy="1852.18" r="2.6"/><circle cx="493.2" cy="1852.18" r="2.6"/><circle cx="496.78" cy="1852.18" r="2.6"/><circle cx="500.35" cy="1852.18" r="2.6"/><circle cx="503.41" cy="1852.18" r="2.6"/><circle cx="506.81" cy="1852.18" r="2.6"/><circle cx="510.21" cy="1852.18" r="2.6"/><circle cx="513.61" cy="1852.18" r="2.6"/><circle cx="517.01" cy="1852.18" r="2.6"/><circle cx="520.41" cy="1852.18" r="2.6"/><circle cx="523.82" cy="1852.18" r="2.6"/><circle cx="527.22" cy="1852.18" r="2.6"/><circle cx="530.62" cy="1852.18" r="2.6"/><circle cx="534.02" cy="1852.18" r="2.6"/><circle cx="539.53" cy="1852.18" r="2.6"/><circle cx="543.82" cy="1852.18" r="2.6"/><circle cx="548.1" cy="1852.18" r="2.6"/><circle cx="552.39" cy="1852.18" r="2.6"/><circle cx="558.51" cy="1852.18" r="2.6"/><circle cx="561.57" cy="1852.18" r="2.6"/><circle cx="564.63" cy="1852.18" r="2.6"/><circle cx="567.69" cy="1852.18" r="2.6"/><circle cx="570.76" cy="1852.18" r="2.6"/><circle cx="573.82" cy="1852.18" r="2.6"/><circle cx="579.02" cy="1852.18" r="2.6"/><circle cx="589.12" cy="1852.18" r="2.6"/><circle cx="591.57" cy="1852.18" r="2.6"/><circle cx="611.47" cy="1852.18" r="2.6"/><circle cx="646.98" cy="1852.18" r="2.6"/><circle cx="402.39" cy="1870.88" r="2.6"/><circle cx="453.2" cy="1870.88" r="2.6"/><circle cx="456.88" cy="1870.88" r="2.6"/><circle cx="499.73" cy="1870.88" r="2.6"/><circle cx="503.41" cy="1870.88" r="2.6"/><circle cx="511.06" cy="1870.88" r="2.6"/><circle cx="513.2" cy="1870.88" r="2.6"/><circle cx="518.41" cy="1870.88" r="2.6"/><circle cx="528.51" cy="1870.88" r="2.6"/><circle cx="534.33" cy="1870.88" r="2.6"/><circle cx="545.35" cy="1870.88" r="2.6"/><circle cx="398.71" cy="1901.9" r="2.6"/><circle cx="409.12" cy="1901.9" r="2.6"/><circle cx="414.02" cy="1901.9" r="2.6"/><circle cx="417.69" cy="1901.9" r="2.6"/><circle cx="427.8" cy="1901.9" r="2.6"/><circle cx="436.06" cy="1901.9" r="2.6"/><circle cx="440.65" cy="1901.9" r="2.6"/><circle cx="446.16" cy="1901.9" r="2.6"/><circle cx="453.51" cy="1901.9" r="2.6"/><circle cx="467.9" cy="1901.9" r="2.6"/><circle cx="476.78" cy="1901.9" r="2.6"/><circle cx="480.53" cy="1901.9" r="2.6"/><circle cx="484.28" cy="1901.9" r="2.6"/><circle cx="488.03" cy="1901.9" r="2.6"/><circle cx="491.78" cy="1901.9" r="2.6"/><circle cx="500.04" cy="1901.9" r="2.6"/><circle cx="505.86" cy="1901.9" r="2.6"/><circle cx="509.02" cy="1901.9" r="2.6"/><circle cx="512.18" cy="1901.9" r="2.6"/><circle cx="515.35" cy="1901.9" r="2.6"/><circle cx="518.51" cy="1901.9" r="2.6"/><circle cx="521.67" cy="1901.9" r="2.6"/><circle cx="524.84" cy="1901.9" r="2.6"/><circle cx="530.35" cy="1901.9" r="2.6"/><circle cx="533.61" cy="1901.9" r="2.6"/><circle cx="536.88" cy="1901.9" r="2.6"/><circle cx="540.14" cy="1901.9" r="2.6"/><circle cx="543.41" cy="1901.9" r="2.6"/><circle cx="546.67" cy="1901.9" r="2.6"/><circle cx="549.94" cy="1901.9" r="2.6"/><circle cx="553.2" cy="1901.9" r="2.6"/><circle cx="556.47" cy="1901.9" r="2.6"/><circle cx="559.73" cy="1901.9" r="2.6"/><circle cx="563" cy="1901.9" r="2.6"/><circle cx="566.27" cy="1901.9" r="2.6"/><circle cx="569.53" cy="1901.9" r="2.6"/><circle cx="572.8" cy="1901.9" r="2.6"/><circle cx="576.06" cy="1901.9" r="2.6"/><circle cx="579.33" cy="1901.9" r="2.6"/><circle cx="587.59" cy="1901.9" r="2.6"/><circle cx="592.18" cy="1901.9" r="2.6"/><circle cx="598.92" cy="1901.9" r="2.6"/><circle cx="601.98" cy="1901.9" r="2.6"/><circle cx="605.04" cy="1901.9" r="2.6"/><circle cx="608.1" cy="1901.9" r="2.6"/><circle cx="616.67" cy="1901.9" r="2.6"/><circle cx="631.98" cy="1901.9" r="2.6"/><circle cx="634.12" cy="1901.9" r="2.6"/><circle cx="448.31" cy="1920.6" r="2.6"/><circle cx="452.13" cy="1920.6" r="2.6"/><circle cx="455.96" cy="1920.6" r="2.6"/><circle cx="470.04" cy="1920.6" r="2.6"/><circle cx="479.84" cy="1920.6" r="2.6"/><circle cx="484.73" cy="1920.6" r="2.6"/><circle cx="492.08" cy="1920.6" r="2.6"/><circle cx="494.22" cy="1920.6" r="2.6"/><circle cx="500.96" cy="1920.6" r="2.6"/><circle cx="504.51" cy="1920.6" r="2.6"/><circle cx="508.06" cy="1920.6" r="2.6"/><circle cx="511.61" cy="1920.6" r="2.6"/><circle cx="515.16" cy="1920.6" r="2.6"/><circle cx="518.71" cy="1920.6" r="2.6"/><circle cx="525.76" cy="1920.6" r="2.6"/><circle cx="528.92" cy="1920.6" r="2.6"/><circle cx="532.08" cy="1920.6" r="2.6"/><circle cx="535.24" cy="1920.6" r="2.6"/><circle cx="538.41" cy="1920.6" r="2.6"/><circle cx="541.57" cy="1920.6" r="2.6"/><circle cx="544.73" cy="1920.6" r="2.6"/><circle cx="551.16" cy="1920.6" r="2.6"/><circle cx="556.98" cy="1920.6" r="2.6"/><circle cx="560.24" cy="1920.6" r="2.6"/><circle cx="563.51" cy="1920.6" r="2.6"/><circle cx="566.78" cy="1920.6" r="2.6"/><circle cx="575.35" cy="1920.6" r="2.6"/><circle cx="582.39" cy="1920.6" r="2.6"/><circle cx="585.45" cy="1920.6" r="2.6"/><circle cx="588.51" cy="1920.6" r="2.6"/><circle cx="596.16" cy="1920.6" r="2.6"/><circle cx="600.76" cy="1920.6" r="2.6"/><circle cx="605.35" cy="1920.6" r="2.6"/><circle cx="613.31" cy="1920.6" r="2.6"/><circle cx="620.65" cy="1920.6" r="2.6"/><circle cx="624.94" cy="1920.6" r="2.6"/><circle cx="641.16" cy="1920.6" r="2.6"/><circle cx="386.47" cy="2001.34" r="2.6"/><circle cx="395.35" cy="2001.34" r="2.6"/><circle cx="399.63" cy="2001.34" r="2.6"/><circle cx="415.86" cy="2001.34" r="2.6"/><circle cx="424.12" cy="2001.34" r="2.6"/><circle cx="430.86" cy="2001.34" r="2.6"/><circle cx="433.92" cy="2001.34" r="2.6"/><circle cx="436.98" cy="2001.34" r="2.6"/><circle cx="440.04" cy="2001.34" r="2.6"/><circle cx="443.1" cy="2001.34" r="2.6"/><circle cx="446.16" cy="2001.34" r="2.6"/><circle cx="455.35" cy="2001.34" r="2.6"/><circle cx="468.82" cy="2001.34" r="2.6"/><circle cx="472.03" cy="2001.34" r="2.6"/><circle cx="475.24" cy="2001.34" r="2.6"/><circle cx="482.59" cy="2001.34" r="2.6"/><circle cx="490.55" cy="2001.34" r="2.6"/><circle cx="493.92" cy="2001.34" r="2.6"/><circle cx="497.29" cy="2001.34" r="2.6"/><circle cx="504.33" cy="2001.34" r="2.6"/><circle cx="507.92" cy="2001.34" r="2.6"/><circle cx="511.52" cy="2001.34" r="2.6"/><circle cx="515.12" cy="2001.34" r="2.6"/><circle cx="518.71" cy="2001.34" r="2.6"/><circle cx="524.53" cy="2001.34" r="2.6"/><circle cx="532.49" cy="2001.34" r="2.6"/><circle cx="537.08" cy="2001.34" r="2.6"/><circle cx="552.39" cy="2001.34" r="2.6"/><circle cx="555.45" cy="2001.34" r="2.6"/><circle cx="565.24" cy="2001.34" r="2.6"/><circle cx="570.76" cy="2001.34" r="2.6"/><circle cx="574.09" cy="2001.34" r="2.6"/><circle cx="577.43" cy="2001.34" r="2.6"/><circle cx="580.77" cy="2001.34" r="2.6"/><circle cx="584.11" cy="2001.34" r="2.6"/><circle cx="587.45" cy="2001.34" r="2.6"/><circle cx="590.79" cy="2001.34" r="2.6"/><circle cx="594.13" cy="2001.34" r="2.6"/><circle cx="597.47" cy="2001.34" r="2.6"/><circle cx="600.81" cy="2001.34" r="2.6"/><circle cx="604.15" cy="2001.34" r="2.6"/><circle cx="607.49" cy="2001.34" r="2.6"/><circle cx="610.83" cy="2001.34" r="2.6"/><circle cx="614.17" cy="2001.34" r="2.6"/><circle cx="617.51" cy="2001.34" r="2.6"/><circle cx="620.85" cy="2001.34" r="2.6"/><circle cx="624.19" cy="2001.34" r="2.6"/><circle cx="627.53" cy="2001.34" r="2.6"/><circle cx="630.87" cy="2001.34" r="2.6"/><circle cx="634.21" cy="2001.34" r="2.6"/><circle cx="637.55" cy="2001.34" r="2.6"/><circle cx="640.88" cy="2001.34" r="2.6"/><circle cx="644.22" cy="2001.34" r="2.6"/><circle cx="657.08" cy="2001.34" r="2.6"/><circle cx="662.59" cy="2001.34" r="2.6"/><circle cx="674.22" cy="2001.34" r="2.6"/><circle cx="418.31" cy="2020.04" r="2.6"/><circle cx="430.55" cy="2020.04" r="2.6"/><circle cx="545.35" cy="2020.04" r="2.6"/><circle cx="557.9" cy="2020.04" r="2.6"/><circle cx="568.61" cy="2020.04" r="2.6"/><circle cx="591.57" cy="2020.04" r="2.6"/><circle cx="595.86" cy="2020.04" r="2.6"/><circle cx="609.33" cy="2020.04" r="2.6"/><circle cx="618.82" cy="2020.04" r="2.6"/><circle cx="622.49" cy="2020.04" r="2.6"/><circle cx="626.16" cy="2020.04" r="2.6"/><circle cx="629.84" cy="2020.04" r="2.6"/><circle cx="638.41" cy="2020.04" r="2.6"/><circle cx="646.67" cy="2020.04" r="2.6"/><circle cx="655.55" cy="2020.04" r="2.6"/><circle cx="407.9" cy="2051.06" r="2.6"/><circle cx="423.2" cy="2051.06" r="2.6"/><circle cx="443.1" cy="2051.06" r="2.6"/><circle cx="446.85" cy="2051.06" r="2.6"/><circle cx="450.6" cy="2051.06" r="2.6"/><circle cx="454.35" cy="2051.06" r="2.6"/><circle cx="458.1" cy="2051.06" r="2.6"/><circle cx="473.1" cy="2051.06" r="2.6"/><circle cx="480.45" cy="2051.06" r="2.6"/><circle cx="482.59" cy="2051.06" r="2.6"/><circle cx="488.71" cy="2051.06" r="2.6"/><circle cx="491.57" cy="2051.06" r="2.6"/><circle cx="494.43" cy="2051.06" r="2.6"/><circle cx="497.29" cy="2051.06" r="2.6"/><circle cx="505.86" cy="2051.06" r="2.6"/><circle cx="519.33" cy="2051.06" r="2.6"/><circle cx="522.69" cy="2051.06" r="2.6"/><circle cx="532.49" cy="2051.06" r="2.6"/><circle cx="535.55" cy="2051.06" r="2.6"/><circle cx="541.06" cy="2051.06" r="2.6"/><circle cx="544.52" cy="2051.06" r="2.6"/><circle cx="547.97" cy="2051.06" r="2.6"/><circle cx="551.43" cy="2051.06" r="2.6"/><circle cx="554.88" cy="2051.06" r="2.6"/><circle cx="558.34" cy="2051.06" r="2.6"/><circle cx="561.79" cy="2051.06" r="2.6"/><circle cx="565.24" cy="2051.06" r="2.6"/><circle cx="572.9" cy="2051.06" r="2.6"/><circle cx="578.41" cy="2051.06" r="2.6"/><circle cx="585.45" cy="2051.06" r="2.6"/><circle cx="593.1" cy="2051.06" r="2.6"/><circle cx="596.7" cy="2051.06" r="2.6"/><circle cx="600.3" cy="2051.06" r="2.6"/><circle cx="603.89" cy="2051.06" r="2.6"/><circle cx="607.49" cy="2051.06" r="2.6"/><circle cx="616.67" cy="2051.06" r="2.6"/><circle cx="620.55" cy="2051.06" r="2.6"/><circle cx="624.43" cy="2051.06" r="2.6"/><circle cx="628.31" cy="2051.06" r="2.6"/><circle cx="633.51" cy="2051.06" r="2.6"/><circle cx="637.03" cy="2051.06" r="2.6"/><circle cx="640.55" cy="2051.06" r="2.6"/><circle cx="654.94" cy="2051.06" r="2.6"/><circle cx="664.73" cy="2051.06" r="2.6"/><circle cx="697.18" cy="2051.06" r="2.6"/><circle cx="445.24" cy="2069.76" r="2.6"/><circle cx="461.47" cy="2069.76" r="2.6"/><circle cx="470.65" cy="2069.76" r="2.6"/><circle cx="478" cy="2069.76" r="2.6"/><circle cx="481.37" cy="2069.76" r="2.6"/><circle cx="484.73" cy="2069.76" r="2.6"/><circle cx="488.1" cy="2069.76" r="2.6"/><circle cx="491.47" cy="2069.76" r="2.6"/><circle cx="494.84" cy="2069.76" r="2.6"/><circle cx="529.43" cy="2069.76" r="2.6"/><circle cx="534.63" cy="2069.76" r="2.6"/><circle cx="562.8" cy="2069.76" r="2.6"/><circle cx="581.47" cy="2069.76" r="2.6"/><circle cx="585.45" cy="2069.76" r="2.6"/><circle cx="537.08" cy="2249.95" r="2.6"/><circle cx="540.76" cy="2249.95" r="2.6"/><circle cx="544.43" cy="2249.95" r="2.6"/><circle cx="548.1" cy="2249.95" r="2.6"/><circle cx="551.78" cy="2249.95" r="2.6"/><circle cx="558.51" cy="2249.95" r="2.6"/><circle cx="561.88" cy="2249.95" r="2.6"/><circle cx="565.24" cy="2249.95" r="2.6"/><circle cx="576.27" cy="2249.95" r="2.6"/><circle cx="581.47" cy="2249.95" r="2.6"/><circle cx="612.69" cy="2249.95" r="2.6"/><circle cx="617.29" cy="2249.95" r="2.6"/><circle cx="408.2" cy="2268.65" r="2.6"/><circle cx="424.73" cy="2268.65" r="2.6"/><circle cx="433.92" cy="2268.65" r="2.6"/><circle cx="437.59" cy="2268.65" r="2.6"/><circle cx="448.31" cy="2268.65" r="2.6"/><circle cx="451.37" cy="2268.65" r="2.6"/><circle cx="457.18" cy="2268.65" r="2.6"/><circle cx="465.45" cy="2268.65" r="2.6"/><circle cx="471.27" cy="2268.65" r="2.6"/><circle cx="473.56" cy="2268.65" r="2.6"/><circle cx="475.86" cy="2268.65" r="2.6"/><circle cx="481.98" cy="2268.65" r="2.6"/><circle cx="484.12" cy="2268.65" r="2.6"/><circle cx="493.31" cy="2268.65" r="2.6"/><circle cx="505.55" cy="2268.65" r="2.6"/><circle cx="515.04" cy="2268.65" r="2.6"/><circle cx="517.8" cy="2268.65" r="2.6"/><circle cx="520.55" cy="2268.65" r="2.6"/><circle cx="528.82" cy="2268.65" r="2.6"/><circle cx="532.49" cy="2268.65" r="2.6"/><circle cx="540.14" cy="2268.65" r="2.6"/><circle cx="550.24" cy="2268.65" r="2.6"/><circle cx="552.39" cy="2268.65" r="2.6"/><circle cx="558.51" cy="2268.65" r="2.6"/><circle cx="564.33" cy="2268.65" r="2.6"/><circle cx="598.92" cy="2268.65" r="2.6"/><circle cx="401.16" cy="2349.4" r="2.6"/><circle cx="421.37" cy="2349.4" r="2.6"/><circle cx="431.47" cy="2349.4" r="2.6"/><circle cx="436.37" cy="2349.4" r="2.6"/><circle cx="458.71" cy="2349.4" r="2.6"/><circle cx="464.22" cy="2349.4" r="2.6"/><circle cx="468.2" cy="2349.4" r="2.6"/><circle cx="473.71" cy="2349.4" r="2.6"/><circle cx="478" cy="2349.4" r="2.6"/><circle cx="483.51" cy="2349.4" r="2.6"/><circle cx="487.34" cy="2349.4" r="2.6"/><circle cx="491.16" cy="2349.4" r="2.6"/><circle cx="495.76" cy="2349.4" r="2.6"/><circle cx="499.18" cy="2349.4" r="2.6"/><circle cx="502.61" cy="2349.4" r="2.6"/><circle cx="506.04" cy="2349.4" r="2.6"/><circle cx="509.47" cy="2349.4" r="2.6"/><circle cx="512.9" cy="2349.4" r="2.6"/><circle cx="516.33" cy="2349.4" r="2.6"/><circle cx="519.76" cy="2349.4" r="2.6"/><circle cx="523.18" cy="2349.4" r="2.6"/><circle cx="526.61" cy="2349.4" r="2.6"/><circle cx="530.04" cy="2349.4" r="2.6"/><circle cx="533.47" cy="2349.4" r="2.6"/><circle cx="536.9" cy="2349.4" r="2.6"/><circle cx="540.33" cy="2349.4" r="2.6"/><circle cx="543.76" cy="2349.4" r="2.6"/><circle cx="547.18" cy="2349.4" r="2.6"/><circle cx="550.61" cy="2349.4" r="2.6"/><circle cx="554.04" cy="2349.4" r="2.6"/><circle cx="557.47" cy="2349.4" r="2.6"/><circle cx="560.9" cy="2349.4" r="2.6"/><circle cx="564.33" cy="2349.4" r="2.6"/><circle cx="567.76" cy="2349.4" r="2.6"/><circle cx="571.18" cy="2349.4" r="2.6"/><circle cx="574.61" cy="2349.4" r="2.6"/><circle cx="578.04" cy="2349.4" r="2.6"/><circle cx="581.47" cy="2349.4" r="2.6"/><circle cx="587.59" cy="2349.4" r="2.6"/><circle cx="591.42" cy="2349.4" r="2.6"/><circle cx="595.24" cy="2349.4" r="2.6"/><circle cx="601.37" cy="2349.4" r="2.6"/><circle cx="626.16" cy="2349.4" r="2.6"/><circle cx="433.31" cy="2399.12" r="2.6"/><circle cx="449.22" cy="2399.12" r="2.6"/><circle cx="459.02" cy="2399.12" r="2.6"/><circle cx="462.08" cy="2399.12" r="2.6"/><circle cx="478.61" cy="2399.12" r="2.6"/><circle cx="485.65" cy="2399.12" r="2.6"/><circle cx="488.71" cy="2399.12" r="2.6"/><circle cx="517.49" cy="2399.12" r="2.6"/><circle cx="523.31" cy="2399.12" r="2.6"/><circle cx="528.82" cy="2399.12" r="2.6"/><circle cx="532.64" cy="2399.12" r="2.6"/><circle cx="536.47" cy="2399.12" r="2.6"/><circle cx="544.12" cy="2399.12" r="2.6"/><circle cx="547.31" cy="2399.12" r="2.6"/><circle cx="550.49" cy="2399.12" r="2.6"/><circle cx="553.67" cy="2399.12" r="2.6"/><circle cx="556.86" cy="2399.12" r="2.6"/><circle cx="560.04" cy="2399.12" r="2.6"/><circle cx="565.24" cy="2399.12" r="2.6"/><circle cx="567.69" cy="2399.12" r="2.6"/><circle cx="573.2" cy="2399.12" r="2.6"/><circle cx="577.49" cy="2399.12" r="2.6"/><circle cx="581.78" cy="2399.12" r="2.6"/><circle cx="586.06" cy="2399.12" r="2.6"/><circle cx="592.18" cy="2399.12" r="2.6"/><circle cx="596.78" cy="2399.12" r="2.6"/><circle cx="601.37" cy="2399.12" r="2.6"/><circle cx="604.94" cy="2399.12" r="2.6"/><circle cx="608.51" cy="2399.12" r="2.6"/><circle cx="612.08" cy="2399.12" r="2.6"/><circle cx="617.29" cy="2399.12" r="2.6"/><circle cx="619.73" cy="2399.12" r="2.6"/><circle cx="627.08" cy="2399.12" r="2.6"/><circle cx="639.63" cy="2399.12" r="2.6"/><circle cx="535.55" cy="2417.82" r="2.6"/><circle cx="331.98" cy="2448.84" r="2.6"/><circle cx="378.2" cy="2448.84" r="2.6"/><circle cx="386.47" cy="2448.84" r="2.6"/><circle cx="390.45" cy="2448.84" r="2.6"/><circle cx="406.37" cy="2448.84" r="2.6"/><circle cx="419.22" cy="2448.84" r="2.6"/><circle cx="429.94" cy="2448.84" r="2.6"/><circle cx="433.61" cy="2448.84" r="2.6"/><circle cx="439.73" cy="2448.84" r="2.6"/><circle cx="444.33" cy="2448.84" r="2.6"/><circle cx="449.84" cy="2448.84" r="2.6"/><circle cx="465.14" cy="2448.84" r="2.6"/><circle cx="472.18" cy="2448.84" r="2.6"/><circle cx="475.62" cy="2448.84" r="2.6"/><circle cx="479.05" cy="2448.84" r="2.6"/><circle cx="482.48" cy="2448.84" r="2.6"/><circle cx="485.92" cy="2448.84" r="2.6"/><circle cx="489.35" cy="2448.84" r="2.6"/><circle cx="492.78" cy="2448.84" r="2.6"/><circle cx="496.21" cy="2448.84" r="2.6"/><circle cx="499.65" cy="2448.84" r="2.6"/><circle cx="503.08" cy="2448.84" r="2.6"/><circle cx="506.51" cy="2448.84" r="2.6"/><circle cx="509.95" cy="2448.84" r="2.6"/><circle cx="513.38" cy="2448.84" r="2.6"/><circle cx="516.81" cy="2448.84" r="2.6"/><circle cx="520.24" cy="2448.84" r="2.6"/><circle cx="525.76" cy="2448.84" r="2.6"/><circle cx="530.35" cy="2448.84" r="2.6"/><circle cx="535.55" cy="2448.84" r="2.6"/><circle cx="542.59" cy="2448.84" r="2.6"/><circle cx="549.33" cy="2448.84" r="2.6"/><circle cx="553.31" cy="2448.84" r="2.6"/><circle cx="568.61" cy="2448.84" r="2.6"/><circle cx="572.39" cy="2448.84" r="2.6"/><circle cx="576.16" cy="2448.84" r="2.6"/><circle cx="579.94" cy="2448.84" r="2.6"/><circle cx="585.45" cy="2448.84" r="2.6"/><circle cx="587.59" cy="2448.84" r="2.6"/><circle cx="599.22" cy="2448.84" r="2.6"/><circle cx="605.96" cy="2448.84" r="2.6"/><circle cx="619.43" cy="2448.84" r="2.6"/><circle cx="636.57" cy="2448.84" r="2.6"/><circle cx="420.14" cy="2467.54" r="2.6"/><circle cx="424.43" cy="2467.54" r="2.6"/><circle cx="432.39" cy="2467.54" r="2.6"/><circle cx="434.53" cy="2467.54" r="2.6"/><circle cx="464.22" cy="2467.54" r="2.6"/><circle cx="473.1" cy="2467.54" r="2.6"/><circle cx="526.37" cy="2467.54" r="2.6"/><circle cx="570.14" cy="2467.54" r="2.6"/></g>
<path d="M313.61 202.8H585.14V219.9H313.61ZM313.61 252.52H523.31V269.62H313.61ZM489.02 302.24H614.84V319.34H489.02ZM313.61 351.97H631.37V369.07H313.61ZM313.61 401.69H508.61V418.79H313.61ZM500.04 451.41H568.31V468.51H500.04ZM313.61 501.13H499.73V518.23H313.61ZM313.61 550.85H612.08V567.95H313.61ZM313.61 600.58H592.18V617.68H313.61ZM458.41 650.3H644.53V667.4H458.41ZM313.61 700.02H611.47V717.12H313.61ZM313.61 749.74H527.9V766.84H313.61ZM313.61 799.46H583.31V816.56H313.61ZM514.12 849.19H660.76V866.29H514.12ZM313.61 898.91H551.16V916.01H313.61ZM313.61 948.63H480.45V965.73H313.61ZM313.61 998.35H587.29V1015.45H313.61ZM313.61 1048.07H536.78V1065.17H313.61ZM313.61 1097.8H568.31V1114.9H313.61ZM313.61 1147.52H501.27V1164.62H313.61ZM473.41 1197.24H634.73V1214.34H473.41ZM313.61 1246.96H313.61V1264.06H313.61ZM313.61 1296.68H521.47V1313.78H313.61ZM313.61 1346.41H573.2V1363.51H313.61ZM313.61 1396.13H474.33V1413.23H313.61ZM313.61 1445.85H313.61V1462.95H313.61ZM313.61 1495.57H313.61V1512.67H313.61ZM559.73 1545.29H614.53V1562.39H559.73ZM586.37 1595.02H638.41V1612.12H586.37ZM481.67 1644.74H613.31V1661.84H481.67ZM313.61 1694.46H313.61V1711.56H313.61ZM313.61 1744.18H506.16V1761.28H313.61ZM421.67 1793.9H552.69V1811H421.67ZM313.61 1843.63H313.61V1860.73H313.61ZM313.61 1893.35H313.61V1910.45H313.61ZM313.61 1943.07H523.31V1960.17H313.61ZM313.61 1992.79H313.61V2009.89H313.61ZM313.61 2042.51H313.61V2059.61H313.61ZM313.61 2092.24H579.33V2109.34H313.61ZM313.61 2141.96H556.37V2159.06H313.61ZM313.61 2191.68H460.24V2208.78H313.61ZM313.61 2241.4H403V2258.5H313.61ZM313.61 2291.12H590.35V2308.22H313.61ZM313.61 2340.85H313.61V2357.95H313.61ZM313.61 2390.57H313.61V2407.67H313.61ZM313.61 2440.29H313.61V2457.39H313.61Z" fill="#00BFC4" stroke="#333333" stroke-width="2.05" stroke-linejoin="round"/>
<path d="M313.61 221.7H615.14V238.4H313.61ZM313.61 271.42H313.61V288.12H313.61ZM558.82 321.14H641.16V337.84H558.82ZM549.94 370.87H639.63V387.57H549.94ZM313.61 420.59H461.47V437.29H313.61ZM313.61 470.31H552.39V487.01H313.61ZM313.61 520.03H313.61V536.73H313.61ZM526.06 569.75H622.18V586.45H526.06ZM313.61 619.48H313.61V636.18H313.61ZM484.12 669.2H661.37V685.9H484.12ZM313.61 718.92H635.35V735.62H313.61ZM313.61 768.64H491.16V785.34H313.61ZM313.61 818.36H486.57V835.06H313.61ZM597.69 868.09H668.41V884.79H597.69ZM313.61 917.81H523.31V934.51H313.61ZM313.61 967.53H313.61V984.23H313.61ZM313.61 1017.25H546.57V1033.95H313.61ZM313.61 1066.97H564.33V1083.67H313.61ZM313.61 1116.7H611.47V1133.4H313.61ZM313.61 1166.42H313.61V1183.12H313.61ZM313.61 1216.14H616.37V1232.84H313.61ZM313.61 1265.86H583.31V1282.56H313.61ZM313.61 1315.58H495.45V1332.28H313.61ZM313.61 1365.31H595.55V1382.01H313.61ZM313.61 1415.03H490.24V1431.73H313.61ZM313.61 1464.75H313.61V1481.45H313.61ZM313.61 1514.47H313.61V1531.17H313.61ZM545.65 1564.19H590.35V1580.89H545.65ZM521.78 1613.92H632.9V1630.62H521.78ZM331.67 1663.64H594.33V1680.34H331.67ZM313.61 1713.36H313.61V1730.06H313.61ZM313.61 1763.08H313.61V1779.78H313.61ZM313.61 1812.8H543.2V1829.5H313.61ZM313.61 1862.53H313.61V1879.23H313.61ZM313.61 1912.25H363.51V1928.95H313.61ZM313.61 1961.97H557.9V1978.67H313.61ZM313.61 2011.69H313.61V2028.39H313.61ZM313.61 2061.41H313.61V2078.11H313.61ZM313.61 2111.14H590.04V2127.84H313.61ZM313.61 2160.86H564.63V2177.56H313.61ZM313.61 2210.58H437.59V2227.28H313.61ZM313.61 2260.3H313.61V2277H313.61ZM313.61 2310.02H600.14V2326.72H313.61ZM313.61 2359.75H517.49V2376.45H313.61ZM313.61 2409.47H313.61V2426.17H313.61ZM313.61 2459.19H313.61V2475.89H313.61Z" fill="#E69F00" stroke="#333333" stroke-width="2.05" stroke-linejoin="round"/>
<path d="M523.92 202.8V219.9M571.37 221.7V238.4M313.61 252.52V269.62M313.61 271.42V288.12M567.69 302.24V319.34M601.37 321.14V337.84M598.92 351.97V369.07M620.65 370.87V387.57M444.33 401.69V418.79M313.61 420.59V437.29M541.37 451.41V468.51M509.53 470.31V487.01M313.61 501.13V518.23M313.61 520.03V536.73M572.9 550.85V567.95M593.1 569.75V586.45M313.61 600.58V617.68M313.61 619.48V636.18M572.29 650.3V667.4M613.61 669.2V685.9M509.22 700.02V717.12M567.08 718.92V735.62M452.9 749.74V766.84M313.61 768.64V785.34M313.61 799.46V816.56M313.61 818.36V835.06M628 849.19V866.29M652.8 868.09V884.79M313.61 898.91V916.01M313.61 917.81V934.51M313.61 948.63V965.73M313.61 967.53V984.23M498.2 998.35V1015.45M313.61 1017.25V1033.95M313.61 1048.07V1065.17M359.84 1066.97V1083.67M313.61 1097.8V1114.9M313.61 1116.7V1133.4M313.61 1147.52V1164.62M313.61 1166.42V1183.12M589.43 1197.24V1214.34M573.82 1216.14V1232.84M313.61 1246.96V1264.06M313.61 1265.86V1282.56M438.82 1296.68V1313.78M313.61 1315.58V1332.28M494.84 1346.41V1363.51M537.08 1365.31V1382.01M313.61 1396.13V1413.23M313.61 1415.03V1431.73M313.61 1445.85V1462.95M313.61 1464.75V1481.45M313.61 1495.57V1512.67M313.61 1514.47V1531.17M586.67 1545.29V1562.39M569.22 1564.19V1580.89M614.53 1595.02V1612.12M609.94 1613.92V1630.62M564.02 1644.74V1661.84M551.47 1663.64V1680.34M313.61 1694.46V1711.56M313.61 1713.36V1730.06M313.61 1744.18V1761.28M313.61 1763.08V1779.78M512.59 1793.9V1811M485.65 1812.8V1829.5M313.61 1843.63V1860.73M313.61 1862.53V1879.23M313.61 1893.35V1910.45M313.61 1912.25V1928.95M313.61 1943.07V1960.17M313.61 1961.97V1978.67M313.61 1992.79V2009.89M313.61 2011.69V2028.39M313.61 2042.51V2059.61M313.61 2061.41V2078.11M539.53 2092.24V2109.34M564.02 2111.14V2127.84M313.61 2141.96V2159.06M313.61 2160.86V2177.56M408.2 2191.68V2208.78M313.61 2210.58V2227.28M313.61 2241.4V2258.5M313.61 2260.3V2277M313.61 2291.12V2308.22M534.94 2310.02V2326.72M313.61 2340.85V2357.95M313.61 2359.75V2376.45M313.61 2390.57V2407.67M313.61 2409.47V2426.17M313.61 2440.29V2457.39M313.61 2459.19V2475.89" stroke="#333333" stroke-width="4.6" fill="none"/>
<path d="M778.2 211.35H817.39M1034.43 211.35H1109.73M793.2 230.05H838.82M1063.2 230.05H1139.73M782.8 261.07H806.67M987.59 261.07H1113.71M781.57 279.77H808.2M832.08 279.77H853.82M834.22 310.79H970.76M1062.29 310.79H1151.06M942.29 329.49H1019.12M1084.63 329.49H1139.43M786.78 360.52H829.94M1069.02 360.52H1125.35M941.06 379.22H1018.51M1082.49 379.22H1140.04M786.47 410.24H812.18M973.82 410.24H1058.92M781.57 428.94H810.04M941.06 428.94H1028M900.04 459.96H967.08M1022.8 459.96H1093.82M788.92 478.66H848.61M1014.22 478.66H1095.96M780.96 509.68H806.98M971.37 509.68H1072.39M781.57 528.38H806.67M825.65 528.38H853.82M780.04 559.4H825.96M1055.86 559.4H1134.22M932.8 578.1H986.98M1067.49 578.1H1122.29M780.96 609.13H806.06M1031.67 609.13H1154.73M781.57 627.83H806.98M832.39 627.83H867.59M786.78 658.85H943.82M1078.2 658.85H1153.82M800.24 677.55H966.78M1095.96 677.55H1136.06M780.96 708.57H816.78M1052.49 708.57H1130.55M786.78 727.27H824.73M1076.06 727.27H1144.02M780.35 758.29H812.18M996.16 758.29H1145.86M783.1 776.99H812.49M965.24 776.99H1072.08M780.35 808.01H807.59M1027.08 808.01H1106.06M785.24 826.71H808.82M964.02 826.71H1090.14M850.14 857.74H993.1M1091.06 857.74H1151.98M961.88 876.44H1047.29M1105.14 876.44H1144.33M778.2 907.46H810.96M1006.88 907.46H1096.57M781.88 926.16H809.12M989.43 926.16H1055.55M773.61 957.18H805.14M953.61 957.18H1149.84M781.57 975.88H806.37M840.04 975.88H875.55M780.35 1006.9H813.1M1033.2 1006.9H1181.98M787.08 1025.6H811.88M1007.8 1025.6H1178M773.61 1056.62H808.2M992.18 1056.62H1092.59M783.1 1075.32H814.33M1021.88 1075.32H1109.12M773.61 1106.35H805.76M1015.76 1106.35H1118M781.57 1125.05H809.43M1060.14 1125.05H1115.55M773.61 1156.07H806.67M965.86 1156.07H1054.63M781.57 1174.77H806.37M827.18 1174.77H853.82M788.92 1205.79H955.45M1075.14 1205.79H1176.47M791.98 1224.49H837.59M1062.59 1224.49H1136.37M773.61 1255.51H804.22M837.29 1255.51H850.14M781.88 1274.21H810.04M1031.06 1274.21H1103M773.61 1305.23H808.2M990.35 1305.23H1130.86M783.1 1323.93H807.29M974.12 1323.93H1096.57M773.61 1354.96H814.94M1023.71 1354.96H1110.65M786.78 1373.66H823.51M1043.61 1373.66H1095.96M780.35 1404.68H804.22M954.22 1404.68H1148.92M781.57 1423.38H809.43M967.39 1423.38H1150.45M778.2 1454.4H801.47M824.12 1454.4H850.14M781.57 1473.1H806.06M837.29 1473.1H853.82M780.04 1504.12H804.22M834.84 1504.12H844.94M781.57 1522.82H804.22M823.82 1522.82H845.55M950.24 1553.84H1014.84M1061.37 1553.84H1125.65M949.02 1572.54H1005.96M1047.29 1572.54H1105.14M964.33 1603.57H1032.59M1079.43 1603.57H1147.08M892.39 1622.27H986.98M1074.84 1622.27H1154.73M804.22 1653.29H955.45M1057.08 1653.29H1137.9M800.24 1671.99H864.22M1046.67 1671.99H1131.16M773.61 1703.01H803.92M832.08 1703.01H850.14M781.57 1721.71H804.84M822.9 1721.71H847.08M778.2 1752.73H803.92M976.27 1752.73H1136.98M781.57 1771.43H805.76M830.55 1771.43H853.82M780.96 1802.45H907.69M1015.76 1802.45H1135.45M783.1 1821.15H818.92M1004.43 1821.15H1108.82M773.61 1852.18H802.39M824.43 1852.18H844.94M781.88 1870.88H803M821.06 1870.88H847.08M778.2 1901.9H800.86M824.12 1901.9H844.94M781.57 1920.6H805.14M867.29 1920.6H958.51M778.2 1951.62H805.76M982.69 1951.62H1080.96M781.57 1970.32H808.82M1013.31 1970.32H1090.14M773.61 2001.34H802.39M825.96 2001.34H850.14M781.57 2020.04H803M821.67 2020.04H845.55M778.2 2051.06H802.08M824.12 2051.06H844.94M781.57 2069.76H803.61M821.06 2069.76H847.08M778.2 2100.79H820.45M1029.22 2100.79H1101.78M783.1 2119.49H824.43M1043.31 2119.49H1115.24M773.61 2150.51H804.22M1012.39 2150.51H1104.22M784.63 2169.21H811.57M1025.24 2169.21H1095.65M789.22 2200.23H814.63M937.08 2200.23H1094.43M785.24 2218.93H813.41M919.94 2218.93H1001.37M773.61 2249.95H803M896.06 2249.95H1033.82M781.57 2268.65H804.22M823.51 2268.65H847.08M780.35 2299.67H812.8M1035.96 2299.67H1107.9M787.39 2318.37H818.31M1048.51 2318.37H1094.12M773.61 2349.4H802.39M834.84 2349.4H878M781.57 2368.1H805.14M986.67 2368.1H1088.31M773.61 2399.12H800.86M820.45 2399.12H844.94M781.57 2417.82H803M819.22 2417.82H844.02M773.61 2448.84H801.78M821.37 2448.84H850.14M781.57 2467.54H803M820.14 2467.54H847.08" stroke="#333333" stroke-width="2.05" fill="none"/>
<g fill="#333333"><circle cx="899.73" cy="279.77" r="2.6"/><circle cx="907.69" cy="279.77" r="2.6"/><circle cx="913.2" cy="279.77" r="2.6"/><circle cx="925.14" cy="279.77" r="2.6"/><circle cx="931.27" cy="279.77" r="2.6"/><circle cx="934.68" cy="279.77" r="2.6"/><circle cx="938.09" cy="279.77" r="2.6"/><circle cx="941.51" cy="279.77" r="2.6"/><circle cx="944.92" cy="279.77" r="2.6"/><circle cx="948.34" cy="279.77" r="2.6"/><circle cx="951.75" cy="279.77" r="2.6"/><circle cx="955.17" cy="279.77" r="2.6"/><circle cx="958.58" cy="279.77" r="2.6"/><circle cx="962" cy="279.77" r="2.6"/><circle cx="965.41" cy="279.77" r="2.6"/><circle cx="968.82" cy="279.77" r="2.6"/><circle cx="972.24" cy="279.77" r="2.6"/><circle cx="975.65" cy="279.77" r="2.6"/><circle cx="980.24" cy="279.77" r="2.6"/><circle cx="983.61" cy="279.77" r="2.6"/><circle cx="986.98" cy="279.77" r="2.6"/><circle cx="990.35" cy="279.77" r="2.6"/><circle cx="996.47" cy="279.77" r="2.6"/><circle cx="1005.65" cy="279.77" r="2.6"/><circle cx="1009.33" cy="279.77" r="2.6"/><circle cx="1013.92" cy="279.77" r="2.6"/><circle cx="1017.9" cy="279.77" r="2.6"/><circle cx="1024.02" cy="279.77" r="2.6"/><circle cx="1029.22" cy="279.77" r="2.6"/><circle cx="1031.37" cy="279.77" r="2.6"/><circle cx="1041.47" cy="279.77" r="2.6"/><circle cx="1046.06" cy="279.77" r="2.6"/><circle cx="1048.51" cy="279.77" r="2.6"/><circle cx="1053.71" cy="279.77" r="2.6"/><circle cx="1064.43" cy="279.77" r="2.6"/><circle cx="1094.43" cy="279.77" r="2.6"/><circle cx="780.04" cy="310.79" r="2.6"/><circle cx="791.67" cy="310.79" r="2.6"/><circle cx="797.49" cy="310.79" r="2.6"/><circle cx="800.83" cy="310.79" r="2.6"/><circle cx="804.17" cy="310.79" r="2.6"/><circle cx="807.51" cy="310.79" r="2.6"/><circle cx="810.85" cy="310.79" r="2.6"/><circle cx="814.19" cy="310.79" r="2.6"/><circle cx="817.53" cy="310.79" r="2.6"/><circle cx="820.87" cy="310.79" r="2.6"/><circle cx="824.21" cy="310.79" r="2.6"/><circle cx="827.55" cy="310.79" r="2.6"/><circle cx="830.88" cy="310.79" r="2.6"/><circle cx="834.22" cy="310.79" r="2.6"/><circle cx="793.2" cy="329.49" r="2.6"/><circle cx="802.39" cy="329.49" r="2.6"/><circle cx="807.29" cy="329.49" r="2.6"/><circle cx="813.41" cy="329.49" r="2.6"/><circle cx="816.78" cy="329.49" r="2.6"/><circle cx="820.14" cy="329.49" r="2.6"/><circle cx="823.51" cy="329.49" r="2.6"/><circle cx="826.88" cy="329.49" r="2.6"/><circle cx="830.24" cy="329.49" r="2.6"/><circle cx="842.49" cy="329.49" r="2.6"/><circle cx="846.16" cy="329.49" r="2.6"/><circle cx="915.04" cy="329.49" r="2.6"/><circle cx="791.37" cy="379.22" r="2.6"/><circle cx="793.51" cy="379.22" r="2.6"/><circle cx="800.24" cy="379.22" r="2.6"/><circle cx="803.59" cy="379.22" r="2.6"/><circle cx="806.94" cy="379.22" r="2.6"/><circle cx="810.28" cy="379.22" r="2.6"/><circle cx="813.63" cy="379.22" r="2.6"/><circle cx="816.97" cy="379.22" r="2.6"/><circle cx="820.32" cy="379.22" r="2.6"/><circle cx="823.66" cy="379.22" r="2.6"/><circle cx="827.01" cy="379.22" r="2.6"/><circle cx="830.35" cy="379.22" r="2.6"/><circle cx="833.7" cy="379.22" r="2.6"/><circle cx="837.05" cy="379.22" r="2.6"/><circle cx="840.39" cy="379.22" r="2.6"/><circle cx="843.74" cy="379.22" r="2.6"/><circle cx="847.08" cy="379.22" r="2.6"/><circle cx="853.82" cy="379.22" r="2.6"/><circle cx="910.45" cy="379.22" r="2.6"/><circle cx="918.1" cy="379.22" r="2.6"/><circle cx="791.98" cy="459.96" r="2.6"/><circle cx="795.42" cy="459.96" r="2.6"/><circle cx="798.87" cy="459.96" r="2.6"/><circle cx="802.31" cy="459.96" r="2.6"/><circle cx="805.76" cy="459.96" r="2.6"/><circle cx="809.2" cy="459.96" r="2.6"/><circle cx="812.64" cy="459.96" r="2.6"/><circle cx="816.09" cy="459.96" r="2.6"/><circle cx="819.53" cy="459.96" r="2.6"/><circle cx="822.97" cy="459.96" r="2.6"/><circle cx="826.42" cy="459.96" r="2.6"/><circle cx="829.86" cy="459.96" r="2.6"/><circle cx="833.31" cy="459.96" r="2.6"/><circle cx="836.75" cy="459.96" r="2.6"/><circle cx="840.19" cy="459.96" r="2.6"/><circle cx="843.64" cy="459.96" r="2.6"/><circle cx="847.08" cy="459.96" r="2.6"/><circle cx="850.14" cy="459.96" r="2.6"/><circle cx="1107.29" cy="459.96" r="2.6"/><circle cx="1109.73" cy="459.96" r="2.6"/><circle cx="919.94" cy="528.38" r="2.6"/><circle cx="926.06" cy="528.38" r="2.6"/><circle cx="928.82" cy="528.38" r="2.6"/><circle cx="944.12" cy="528.38" r="2.6"/><circle cx="953.61" cy="528.38" r="2.6"/><circle cx="955.76" cy="528.38" r="2.6"/><circle cx="962.49" cy="528.38" r="2.6"/><circle cx="971.06" cy="528.38" r="2.6"/><circle cx="973.2" cy="528.38" r="2.6"/><circle cx="981.16" cy="528.38" r="2.6"/><circle cx="985.45" cy="528.38" r="2.6"/><circle cx="989.73" cy="528.38" r="2.6"/><circle cx="994.02" cy="528.38" r="2.6"/><circle cx="998.61" cy="528.38" r="2.6"/><circle cx="1003.2" cy="528.38" r="2.6"/><circle cx="1007.8" cy="528.38" r="2.6"/><circle cx="1013.92" cy="528.38" r="2.6"/><circle cx="1016.98" cy="528.38" r="2.6"/><circle cx="1020.04" cy="528.38" r="2.6"/><circle cx="1034.73" cy="528.38" r="2.6"/><circle cx="1062.9" cy="528.38" r="2.6"/><circle cx="1082.49" cy="528.38" r="2.6"/><circle cx="788.92" cy="578.1" r="2.6"/><circle cx="793.51" cy="578.1" r="2.6"/><circle cx="799.63" cy="578.1" r="2.6"/><circle cx="802.85" cy="578.1" r="2.6"/><circle cx="806.06" cy="578.1" r="2.6"/><circle cx="809.28" cy="578.1" r="2.6"/><circle cx="812.49" cy="578.1" r="2.6"/><circle cx="815.7" cy="578.1" r="2.6"/><circle cx="818.92" cy="578.1" r="2.6"/><circle cx="822.13" cy="578.1" r="2.6"/><circle cx="825.35" cy="578.1" r="2.6"/><circle cx="828.56" cy="578.1" r="2.6"/><circle cx="831.78" cy="578.1" r="2.6"/><circle cx="836.37" cy="578.1" r="2.6"/><circle cx="838.51" cy="578.1" r="2.6"/><circle cx="844.02" cy="578.1" r="2.6"/><circle cx="847.08" cy="578.1" r="2.6"/><circle cx="853.82" cy="578.1" r="2.6"/><circle cx="937.69" cy="627.83" r="2.6"/><circle cx="961.57" cy="627.83" r="2.6"/><circle cx="975.65" cy="627.83" r="2.6"/><circle cx="981.78" cy="627.83" r="2.6"/><circle cx="987.9" cy="627.83" r="2.6"/><circle cx="997.08" cy="627.83" r="2.6"/><circle cx="1002.59" cy="627.83" r="2.6"/><circle cx="1005.65" cy="627.83" r="2.6"/><circle cx="1008.71" cy="627.83" r="2.6"/><circle cx="1020.04" cy="627.83" r="2.6"/><circle cx="1032.29" cy="627.83" r="2.6"/><circle cx="1034.43" cy="627.83" r="2.6"/><circle cx="1043" cy="627.83" r="2.6"/><circle cx="1046.06" cy="627.83" r="2.6"/><circle cx="1049.12" cy="627.83" r="2.6"/><circle cx="1053.71" cy="627.83" r="2.6"/><circle cx="1058.77" cy="627.83" r="2.6"/><circle cx="1063.82" cy="627.83" r="2.6"/><circle cx="1074.22" cy="627.83" r="2.6"/><circle cx="1078.1" cy="627.83" r="2.6"/><circle cx="1081.98" cy="627.83" r="2.6"/><circle cx="1085.86" cy="627.83" r="2.6"/><circle cx="1090.45" cy="627.83" r="2.6"/><circle cx="1094.43" cy="627.83" r="2.6"/><circle cx="1104.53" cy="627.83" r="2.6"/><circle cx="1110.35" cy="627.83" r="2.6"/><circle cx="1114.94" cy="627.83" r="2.6"/><circle cx="1125.35" cy="627.83" r="2.6"/><circle cx="791.37" cy="857.74" r="2.6"/><circle cx="794.8" cy="857.74" r="2.6"/><circle cx="798.23" cy="857.74" r="2.6"/><circle cx="801.67" cy="857.74" r="2.6"/><circle cx="805.1" cy="857.74" r="2.6"/><circle cx="808.53" cy="857.74" r="2.6"/><circle cx="811.97" cy="857.74" r="2.6"/><circle cx="815.4" cy="857.74" r="2.6"/><circle cx="818.83" cy="857.74" r="2.6"/><circle cx="822.26" cy="857.74" r="2.6"/><circle cx="825.7" cy="857.74" r="2.6"/><circle cx="829.13" cy="857.74" r="2.6"/><circle cx="832.56" cy="857.74" r="2.6"/><circle cx="836" cy="857.74" r="2.6"/><circle cx="839.43" cy="857.74" r="2.6"/><circle cx="843.71" cy="857.74" r="2.6"/><circle cx="801.78" cy="876.44" r="2.6"/><circle cx="805.26" cy="876.44" r="2.6"/><circle cx="808.75" cy="876.44" r="2.6"/><circle cx="812.23" cy="876.44" r="2.6"/><circle cx="815.72" cy="876.44" r="2.6"/><circle cx="819.2" cy="876.44" r="2.6"/><circle cx="822.69" cy="876.44" r="2.6"/><circle cx="826.17" cy="876.44" r="2.6"/><circle cx="829.66" cy="876.44" r="2.6"/><circle cx="833.14" cy="876.44" r="2.6"/><circle cx="836.63" cy="876.44" r="2.6"/><circle cx="840.11" cy="876.44" r="2.6"/><circle cx="843.6" cy="876.44" r="2.6"/><circle cx="847.08" cy="876.44" r="2.6"/><circle cx="926.06" cy="876.44" r="2.6"/><circle cx="941.37" cy="876.44" r="2.6"/><circle cx="944.79" cy="876.44" r="2.6"/><circle cx="948.2" cy="876.44" r="2.6"/><circle cx="951.62" cy="876.44" r="2.6"/><circle cx="955.04" cy="876.44" r="2.6"/><circle cx="958.46" cy="876.44" r="2.6"/><circle cx="961.88" cy="876.44" r="2.6"/><circle cx="900.65" cy="975.88" r="2.6"/><circle cx="908.31" cy="975.88" r="2.6"/><circle cx="911.37" cy="975.88" r="2.6"/><circle cx="927.59" cy="975.88" r="2.6"/><circle cx="931.06" cy="975.88" r="2.6"/><circle cx="934.53" cy="975.88" r="2.6"/><circle cx="938" cy="975.88" r="2.6"/><circle cx="941.47" cy="975.88" r="2.6"/><circle cx="944.94" cy="975.88" r="2.6"/><circle cx="948.41" cy="975.88" r="2.6"/><circle cx="951.88" cy="975.88" r="2.6"/><circle cx="955.35" cy="975.88" r="2.6"/><circle cx="958.82" cy="975.88" r="2.6"/><circle cx="964.33" cy="975.88" r="2.6"/><circle cx="970.14" cy="975.88" r="2.6"/><circle cx="973.82" cy="975.88" r="2.6"/><circle cx="977.49" cy="975.88" r="2.6"/><circle cx="981.16" cy="975.88" r="2.6"/><circle cx="984.84" cy="975.88" r="2.6"/><circle cx="989.43" cy="975.88" r="2.6"/><circle cx="994.02" cy="975.88" r="2.6"/><circle cx="1028.61" cy="975.88" r="2.6"/><circle cx="1036.27" cy="975.88" r="2.6"/><circle cx="1039.33" cy="975.88" r="2.6"/><circle cx="1042.39" cy="975.88" r="2.6"/><circle cx="1047.9" cy="975.88" r="2.6"/><circle cx="1059.22" cy="975.88" r="2.6"/><circle cx="1062.81" cy="975.88" r="2.6"/><circle cx="1066.4" cy="975.88" r="2.6"/><circle cx="1069.98" cy="975.88" r="2.6"/><circle cx="1073.57" cy="975.88" r="2.6"/><circle cx="1077.15" cy="975.88" r="2.6"/><circle cx="1080.74" cy="975.88" r="2.6"/><circle cx="1084.33" cy="975.88" r="2.6"/><circle cx="1088.92" cy="975.88" r="2.6"/><circle cx="1093" cy="975.88" r="2.6"/><circle cx="1097.08" cy="975.88" r="2.6"/><circle cx="1101.16" cy="975.88" r="2.6"/><circle cx="1108.2" cy="975.88" r="2.6"/><circle cx="1114.33" cy="975.88" r="2.6"/><circle cx="1143.71" cy="975.88" r="2.6"/><circle cx="925.76" cy="1174.77" r="2.6"/><circle cx="931.88" cy="1174.77" r="2.6"/><circle cx="934.33" cy="1174.77" r="2.6"/><circle cx="941.37" cy="1174.77" r="2.6"/><circle cx="945.65" cy="1174.77" r="2.6"/><circle cx="949.94" cy="1174.77" r="2.6"/><circle cx="954.22" cy="1174.77" r="2.6"/><circle cx="964.94" cy="1174.77" r="2.6"/><circle cx="967.08" cy="1174.77" r="2.6"/><circle cx="971.98" cy="1174.77" r="2.6"/><circle cx="976.27" cy="1174.77" r="2.6"/><circle cx="986.37" cy="1174.77" r="2.6"/><circle cx="989.62" cy="1174.77" r="2.6"/><circle cx="992.87" cy="1174.77" r="2.6"/><circle cx="996.12" cy="1174.77" r="2.6"/><circle cx="999.38" cy="1174.77" r="2.6"/><circle cx="1002.63" cy="1174.77" r="2.6"/><circle cx="1005.88" cy="1174.77" r="2.6"/><circle cx="1009.14" cy="1174.77" r="2.6"/><circle cx="1012.39" cy="1174.77" r="2.6"/><circle cx="1025.24" cy="1174.77" r="2.6"/><circle cx="1028.77" cy="1174.77" r="2.6"/><circle cx="1032.29" cy="1174.77" r="2.6"/><circle cx="1053.1" cy="1174.77" r="2.6"/><circle cx="773.31" cy="1205.79" r="2.6"/><circle cx="941.37" cy="1255.51" r="2.6"/><circle cx="946.57" cy="1255.51" r="2.6"/><circle cx="952.69" cy="1255.51" r="2.6"/><circle cx="955.76" cy="1255.51" r="2.6"/><circle cx="960.96" cy="1255.51" r="2.6"/><circle cx="963.41" cy="1255.51" r="2.6"/><circle cx="968" cy="1255.51" r="2.6"/><circle cx="971.06" cy="1255.51" r="2.6"/><circle cx="978.71" cy="1255.51" r="2.6"/><circle cx="982.03" cy="1255.51" r="2.6"/><circle cx="985.35" cy="1255.51" r="2.6"/><circle cx="988.66" cy="1255.51" r="2.6"/><circle cx="991.98" cy="1255.51" r="2.6"/><circle cx="995.3" cy="1255.51" r="2.6"/><circle cx="998.61" cy="1255.51" r="2.6"/><circle cx="1003.82" cy="1255.51" r="2.6"/><circle cx="1007.24" cy="1255.51" r="2.6"/><circle cx="1010.66" cy="1255.51" r="2.6"/><circle cx="1014.09" cy="1255.51" r="2.6"/><circle cx="1017.51" cy="1255.51" r="2.6"/><circle cx="1020.93" cy="1255.51" r="2.6"/><circle cx="1024.35" cy="1255.51" r="2.6"/><circle cx="1027.78" cy="1255.51" r="2.6"/><circle cx="1031.2" cy="1255.51" r="2.6"/><circle cx="1034.62" cy="1255.51" r="2.6"/><circle cx="1038.05" cy="1255.51" r="2.6"/><circle cx="1041.47" cy="1255.51" r="2.6"/><circle cx="1044.89" cy="1255.51" r="2.6"/><circle cx="1048.32" cy="1255.51" r="2.6"/><circle cx="1051.74" cy="1255.51" r="2.6"/><circle cx="1055.16" cy="1255.51" r="2.6"/><circle cx="1058.58" cy="1255.51" r="2.6"/><circle cx="1062.01" cy="1255.51" r="2.6"/><circle cx="1065.43" cy="1255.51" r="2.6"/><circle cx="1068.85" cy="1255.51" r="2.6"/><circle cx="1072.28" cy="1255.51" r="2.6"/><circle cx="1075.7" cy="1255.51" r="2.6"/><circle cx="1079.12" cy="1255.51" r="2.6"/><circle cx="1091.98" cy="1255.51" r="2.6"/><circle cx="1121.67" cy="1255.51" r="2.6"/><circle cx="895.14" cy="1454.4" r="2.6"/><circle cx="911.98" cy="1454.4" r="2.6"/><circle cx="917.18" cy="1454.4" r="2.6"/><circle cx="933.41" cy="1454.4" r="2.6"/><circle cx="939.84" cy="1454.4" r="2.6"/><circle cx="945.96" cy="1454.4" r="2.6"/><circle cx="952.69" cy="1454.4" r="2.6"/><circle cx="959.43" cy="1454.4" r="2.6"/><circle cx="964.02" cy="1454.4" r="2.6"/><circle cx="969.53" cy="1454.4" r="2.6"/><circle cx="972.59" cy="1454.4" r="2.6"/><circle cx="975.93" cy="1454.4" r="2.6"/><circle cx="979.27" cy="1454.4" r="2.6"/><circle cx="982.61" cy="1454.4" r="2.6"/><circle cx="985.95" cy="1454.4" r="2.6"/><circle cx="989.29" cy="1454.4" r="2.6"/><circle cx="992.63" cy="1454.4" r="2.6"/><circle cx="995.97" cy="1454.4" r="2.6"/><circle cx="999.31" cy="1454.4" r="2.6"/><circle cx="1002.65" cy="1454.4" r="2.6"/><circle cx="1005.99" cy="1454.4" r="2.6"/><circle cx="1009.33" cy="1454.4" r="2.6"/><circle cx="1014.84" cy="1454.4" r="2.6"/><circle cx="1018.14" cy="1454.4" r="2.6"/><circle cx="1021.44" cy="1454.4" r="2.6"/><circle cx="1024.73" cy="1454.4" r="2.6"/><circle cx="1028.03" cy="1454.4" r="2.6"/><circle cx="1031.33" cy="1454.4" r="2.6"/><circle cx="1034.63" cy="1454.4" r="2.6"/><circle cx="1037.93" cy="1454.4" r="2.6"/><circle cx="1041.23" cy="1454.4" r="2.6"/><circle cx="1044.53" cy="1454.4" r="2.6"/><circle cx="1049.73" cy="1454.4" r="2.6"/><circle cx="1056.78" cy="1454.4" r="2.6"/><circle cx="1062.9" cy="1454.4" r="2.6"/><circle cx="1066.42" cy="1454.4" r="2.6"/><circle cx="1069.94" cy="1454.4" r="2.6"/><circle cx="1076.67" cy="1454.4" r="2.6"/><circle cx="1081.57" cy="1454.4" r="2.6"/><circle cx="1091.67" cy="1454.4" r="2.6"/><circle cx="927.9" cy="1473.1" r="2.6"/><circle cx="950.24" cy="1473.1" r="2.6"/><circle cx="968.92" cy="1473.1" r="2.6"/><circle cx="971.98" cy="1473.1" r="2.6"/><circle cx="981.78" cy="1473.1" r="2.6"/><circle cx="987.9" cy="1473.1" r="2.6"/><circle cx="992.49" cy="1473.1" r="2.6"/><circle cx="1005.65" cy="1473.1" r="2.6"/><circle cx="1009.33" cy="1473.1" r="2.6"/><circle cx="1013" cy="1473.1" r="2.6"/><circle cx="1019.43" cy="1473.1" r="2.6"/><circle cx="1023.01" cy="1473.1" r="2.6"/><circle cx="1026.6" cy="1473.1" r="2.6"/><circle cx="1030.19" cy="1473.1" r="2.6"/><circle cx="1033.77" cy="1473.1" r="2.6"/><circle cx="1037.36" cy="1473.1" r="2.6"/><circle cx="1040.94" cy="1473.1" r="2.6"/><circle cx="1044.53" cy="1473.1" r="2.6"/><circle cx="1051.57" cy="1473.1" r="2.6"/><circle cx="1056.06" cy="1473.1" r="2.6"/><circle cx="1060.55" cy="1473.1" r="2.6"/><circle cx="1065.04" cy="1473.1" r="2.6"/><circle cx="1073" cy="1473.1" r="2.6"/><circle cx="1078.2" cy="1473.1" r="2.6"/><circle cx="1080.65" cy="1473.1" r="2.6"/><circle cx="1088.31" cy="1473.1" r="2.6"/><circle cx="1090.45" cy="1473.1" r="2.6"/><circle cx="1125.04" cy="1473.1" r="2.6"/><circle cx="882.29" cy="1504.12" r="2.6"/><circle cx="917.49" cy="1504.12" r="2.6"/><circle cx="922.08" cy="1504.12" r="2.6"/><circle cx="932.18" cy="1504.12" r="2.6"/><circle cx="938" cy="1504.12" r="2.6"/><circle cx="941.35" cy="1504.12" r="2.6"/><circle cx="944.69" cy="1504.12" r="2.6"/><circle cx="948.04" cy="1504.12" r="2.6"/><circle cx="951.38" cy="1504.12" r="2.6"/><circle cx="954.73" cy="1504.12" r="2.6"/><circle cx="958.07" cy="1504.12" r="2.6"/><circle cx="961.42" cy="1504.12" r="2.6"/><circle cx="964.76" cy="1504.12" r="2.6"/><circle cx="968.11" cy="1504.12" r="2.6"/><circle cx="971.45" cy="1504.12" r="2.6"/><circle cx="974.8" cy="1504.12" r="2.6"/><circle cx="978.15" cy="1504.12" r="2.6"/><circle cx="981.49" cy="1504.12" r="2.6"/><circle cx="984.84" cy="1504.12" r="2.6"/><circle cx="987.9" cy="1504.12" r="2.6"/><circle cx="992.49" cy="1504.12" r="2.6"/><circle cx="1001.06" cy="1504.12" r="2.6"/><circle cx="1004.65" cy="1504.12" r="2.6"/><circle cx="1008.23" cy="1504.12" r="2.6"/><circle cx="1011.82" cy="1504.12" r="2.6"/><circle cx="1015.41" cy="1504.12" r="2.6"/><circle cx="1018.99" cy="1504.12" r="2.6"/><circle cx="1022.58" cy="1504.12" r="2.6"/><circle cx="1026.16" cy="1504.12" r="2.6"/><circle cx="1029.22" cy="1504.12" r="2.6"/><circle cx="1032.74" cy="1504.12" r="2.6"/><circle cx="1036.27" cy="1504.12" r="2.6"/><circle cx="1039.79" cy="1504.12" r="2.6"/><circle cx="1043.31" cy="1504.12" r="2.6"/><circle cx="1046.83" cy="1504.12" r="2.6"/><circle cx="1050.35" cy="1504.12" r="2.6"/><circle cx="1053.87" cy="1504.12" r="2.6"/><circle cx="1057.39" cy="1504.12" r="2.6"/><circle cx="1060.91" cy="1504.12" r="2.6"/><circle cx="1064.43" cy="1504.12" r="2.6"/><circle cx="1071.47" cy="1504.12" r="2.6"/><circle cx="1074.53" cy="1504.12" r="2.6"/><circle cx="1077.59" cy="1504.12" r="2.6"/><circle cx="1093.51" cy="1504.12" r="2.6"/><circle cx="1097.03" cy="1504.12" r="2.6"/><circle cx="1100.55" cy="1504.12" r="2.6"/><circle cx="1121.37" cy="1504.12" r="2.6"/><circle cx="853.82" cy="1522.82" r="2.6"/><circle cx="893.31" cy="1522.82" r="2.6"/><circle cx="935.24" cy="1522.82" r="2.6"/><circle cx="950.24" cy="1522.82" r="2.6"/><circle cx="958.82" cy="1522.82" r="2.6"/><circle cx="968.31" cy="1522.82" r="2.6"/><circle cx="975.65" cy="1522.82" r="2.6"/><circle cx="979.73" cy="1522.82" r="2.6"/><circle cx="983.82" cy="1522.82" r="2.6"/><circle cx="987.9" cy="1522.82" r="2.6"/><circle cx="992.49" cy="1522.82" r="2.6"/><circle cx="1002.29" cy="1522.82" r="2.6"/><circle cx="1005.14" cy="1522.82" r="2.6"/><circle cx="1008" cy="1522.82" r="2.6"/><circle cx="1010.86" cy="1522.82" r="2.6"/><circle cx="1020.04" cy="1522.82" r="2.6"/><circle cx="1033.82" cy="1522.82" r="2.6"/><circle cx="1039.63" cy="1522.82" r="2.6"/><circle cx="1049.12" cy="1522.82" r="2.6"/><circle cx="1052.18" cy="1522.82" r="2.6"/><circle cx="1067.49" cy="1522.82" r="2.6"/><circle cx="1089.22" cy="1522.82" r="2.6"/><circle cx="1097.49" cy="1522.82" r="2.6"/><circle cx="814.02" cy="1553.84" r="2.6"/><circle cx="823.51" cy="1553.84" r="2.6"/><circle cx="827.11" cy="1553.84" r="2.6"/><circle cx="830.7" cy="1553.84" r="2.6"/><circle cx="834.3" cy="1553.84" r="2.6"/><circle cx="837.9" cy="1553.84" r="2.6"/><circle cx="844.94" cy="1553.84" r="2.6"/><circle cx="926.37" cy="1553.84" r="2.6"/><circle cx="943.51" cy="1553.84" r="2.6"/><circle cx="1131.16" cy="1553.84" r="2.6"/><circle cx="1133.61" cy="1553.84" r="2.6"/><circle cx="1144.02" cy="1553.84" r="2.6"/><circle cx="1151.98" cy="1553.84" r="2.6"/><circle cx="832.08" cy="1572.54" r="2.6"/><circle cx="834.99" cy="1572.54" r="2.6"/><circle cx="837.9" cy="1572.54" r="2.6"/><circle cx="844.02" cy="1572.54" r="2.6"/><circle cx="846.16" cy="1572.54" r="2.6"/><circle cx="853.82" cy="1572.54" r="2.6"/><circle cx="906.78" cy="1572.54" r="2.6"/><circle cx="924.84" cy="1572.54" r="2.6"/><circle cx="931.57" cy="1572.54" r="2.6"/><circle cx="791.06" cy="1603.57" r="2.6"/><circle cx="796.57" cy="1603.57" r="2.6"/><circle cx="800.02" cy="1603.57" r="2.6"/><circle cx="803.46" cy="1603.57" r="2.6"/><circle cx="806.9" cy="1603.57" r="2.6"/><circle cx="810.35" cy="1603.57" r="2.6"/><circle cx="813.79" cy="1603.57" r="2.6"/><circle cx="817.23" cy="1603.57" r="2.6"/><circle cx="820.68" cy="1603.57" r="2.6"/><circle cx="824.12" cy="1603.57" r="2.6"/><circle cx="827.57" cy="1603.57" r="2.6"/><circle cx="831.01" cy="1603.57" r="2.6"/><circle cx="834.45" cy="1603.57" r="2.6"/><circle cx="837.9" cy="1603.57" r="2.6"/><circle cx="843.71" cy="1603.57" r="2.6"/><circle cx="849.84" cy="1603.57" r="2.6"/><circle cx="898.51" cy="1603.57" r="2.6"/><circle cx="901.57" cy="1603.57" r="2.6"/><circle cx="913.82" cy="1603.57" r="2.6"/><circle cx="923" cy="1603.57" r="2.6"/><circle cx="930.35" cy="1603.57" r="2.6"/><circle cx="933.6" cy="1603.57" r="2.6"/><circle cx="936.85" cy="1603.57" r="2.6"/><circle cx="940.1" cy="1603.57" r="2.6"/><circle cx="943.36" cy="1603.57" r="2.6"/><circle cx="946.61" cy="1603.57" r="2.6"/><circle cx="949.86" cy="1603.57" r="2.6"/><circle cx="953.11" cy="1603.57" r="2.6"/><circle cx="956.37" cy="1603.57" r="2.6"/><circle cx="1150.45" cy="1603.57" r="2.6"/><circle cx="801.78" cy="1622.27" r="2.6"/><circle cx="805.06" cy="1622.27" r="2.6"/><circle cx="808.34" cy="1622.27" r="2.6"/><circle cx="811.63" cy="1622.27" r="2.6"/><circle cx="814.91" cy="1622.27" r="2.6"/><circle cx="818.19" cy="1622.27" r="2.6"/><circle cx="821.48" cy="1622.27" r="2.6"/><circle cx="824.76" cy="1622.27" r="2.6"/><circle cx="828.05" cy="1622.27" r="2.6"/><circle cx="831.33" cy="1622.27" r="2.6"/><circle cx="834.61" cy="1622.27" r="2.6"/><circle cx="837.9" cy="1622.27" r="2.6"/><circle cx="842.49" cy="1622.27" r="2.6"/><circle cx="845.55" cy="1622.27" r="2.6"/><circle cx="853.82" cy="1622.27" r="2.6"/><circle cx="782.8" cy="1653.29" r="2.6"/><circle cx="791.37" cy="1653.29" r="2.6"/><circle cx="795.65" cy="1653.29" r="2.6"/><circle cx="799.94" cy="1653.29" r="2.6"/><circle cx="804.22" cy="1653.29" r="2.6"/><circle cx="899.12" cy="1703.01" r="2.6"/><circle cx="911.37" cy="1703.01" r="2.6"/><circle cx="916.72" cy="1703.01" r="2.6"/><circle cx="922.08" cy="1703.01" r="2.6"/><circle cx="928.2" cy="1703.01" r="2.6"/><circle cx="931.62" cy="1703.01" r="2.6"/><circle cx="935.03" cy="1703.01" r="2.6"/><circle cx="938.45" cy="1703.01" r="2.6"/><circle cx="941.86" cy="1703.01" r="2.6"/><circle cx="945.28" cy="1703.01" r="2.6"/><circle cx="948.69" cy="1703.01" r="2.6"/><circle cx="952.11" cy="1703.01" r="2.6"/><circle cx="955.52" cy="1703.01" r="2.6"/><circle cx="958.93" cy="1703.01" r="2.6"/><circle cx="962.35" cy="1703.01" r="2.6"/><circle cx="965.76" cy="1703.01" r="2.6"/><circle cx="969.18" cy="1703.01" r="2.6"/><circle cx="972.59" cy="1703.01" r="2.6"/><circle cx="977.18" cy="1703.01" r="2.6"/><circle cx="980.59" cy="1703.01" r="2.6"/><circle cx="984" cy="1703.01" r="2.6"/><circle cx="987.41" cy="1703.01" r="2.6"/><circle cx="990.82" cy="1703.01" r="2.6"/><circle cx="994.23" cy="1703.01" r="2.6"/><circle cx="997.64" cy="1703.01" r="2.6"/><circle cx="1001.05" cy="1703.01" r="2.6"/><circle cx="1004.46" cy="1703.01" r="2.6"/><circle cx="1007.87" cy="1703.01" r="2.6"/><circle cx="1011.27" cy="1703.01" r="2.6"/><circle cx="1014.68" cy="1703.01" r="2.6"/><circle cx="1018.09" cy="1703.01" r="2.6"/><circle cx="1021.5" cy="1703.01" r="2.6"/><circle cx="1024.91" cy="1703.01" r="2.6"/><circle cx="1028.32" cy="1703.01" r="2.6"/><circle cx="1031.73" cy="1703.01" r="2.6"/><circle cx="1035.14" cy="1703.01" r="2.6"/><circle cx="1038.55" cy="1703.01" r="2.6"/><circle cx="1041.96" cy="1703.01" r="2.6"/><circle cx="1045.37" cy="1703.01" r="2.6"/><circle cx="1048.77" cy="1703.01" r="2.6"/><circle cx="1052.18" cy="1703.01" r="2.6"/><circle cx="1060.45" cy="1703.01" r="2.6"/><circle cx="853.82" cy="1721.71" r="2.6"/><circle cx="925.14" cy="1721.71" r="2.6"/><circle cx="928.57" cy="1721.71" r="2.6"/><circle cx="931.99" cy="1721.71" r="2.6"/><circle cx="935.42" cy="1721.71" r="2.6"/><circle cx="938.85" cy="1721.71" r="2.6"/><circle cx="942.27" cy="1721.71" r="2.6"/><circle cx="945.7" cy="1721.71" r="2.6"/><circle cx="949.12" cy="1721.71" r="2.6"/><circle cx="952.55" cy="1721.71" r="2.6"/><circle cx="955.97" cy="1721.71" r="2.6"/><circle cx="959.4" cy="1721.71" r="2.6"/><circle cx="962.83" cy="1721.71" r="2.6"/><circle cx="966.25" cy="1721.71" r="2.6"/><circle cx="969.68" cy="1721.71" r="2.6"/><circle cx="973.1" cy="1721.71" r="2.6"/><circle cx="976.53" cy="1721.71" r="2.6"/><circle cx="979.95" cy="1721.71" r="2.6"/><circle cx="983.38" cy="1721.71" r="2.6"/><circle cx="986.8" cy="1721.71" r="2.6"/><circle cx="990.23" cy="1721.71" r="2.6"/><circle cx="993.66" cy="1721.71" r="2.6"/><circle cx="997.08" cy="1721.71" r="2.6"/><circle cx="1003.2" cy="1721.71" r="2.6"/><circle cx="1006.27" cy="1721.71" r="2.6"/><circle cx="1009.33" cy="1721.71" r="2.6"/><circle cx="1024.63" cy="1721.71" r="2.6"/><circle cx="1032.29" cy="1721.71" r="2.6"/><circle cx="1035.96" cy="1721.71" r="2.6"/><circle cx="932.49" cy="1771.43" r="2.6"/><circle cx="943.51" cy="1771.43" r="2.6"/><circle cx="949.02" cy="1771.43" r="2.6"/><circle cx="957.29" cy="1771.43" r="2.6"/><circle cx="962.34" cy="1771.43" r="2.6"/><circle cx="967.39" cy="1771.43" r="2.6"/><circle cx="978.1" cy="1771.43" r="2.6"/><circle cx="981.52" cy="1771.43" r="2.6"/><circle cx="984.94" cy="1771.43" r="2.6"/><circle cx="988.36" cy="1771.43" r="2.6"/><circle cx="991.78" cy="1771.43" r="2.6"/><circle cx="995.19" cy="1771.43" r="2.6"/><circle cx="998.61" cy="1771.43" r="2.6"/><circle cx="1004.73" cy="1771.43" r="2.6"/><circle cx="1009.84" cy="1771.43" r="2.6"/><circle cx="1014.94" cy="1771.43" r="2.6"/><circle cx="1020.04" cy="1771.43" r="2.6"/><circle cx="1029.84" cy="1771.43" r="2.6"/><circle cx="1032.29" cy="1771.43" r="2.6"/><circle cx="1039.94" cy="1771.43" r="2.6"/><circle cx="1051.27" cy="1771.43" r="2.6"/><circle cx="1060.45" cy="1771.43" r="2.6"/><circle cx="1065.96" cy="1771.43" r="2.6"/><circle cx="1072.39" cy="1771.43" r="2.6"/><circle cx="1081.27" cy="1771.43" r="2.6"/><circle cx="1087.39" cy="1771.43" r="2.6"/><circle cx="1091.16" cy="1771.43" r="2.6"/><circle cx="1094.94" cy="1771.43" r="2.6"/><circle cx="1098.71" cy="1771.43" r="2.6"/><circle cx="1114.02" cy="1771.43" r="2.6"/><circle cx="1117.08" cy="1771.43" r="2.6"/><circle cx="1121.67" cy="1771.43" r="2.6"/><circle cx="1124.73" cy="1771.43" r="2.6"/><circle cx="1177.08" cy="1771.43" r="2.6"/><circle cx="871.88" cy="1852.18" r="2.6"/><circle cx="890.55" cy="1852.18" r="2.6"/><circle cx="900.96" cy="1852.18" r="2.6"/><circle cx="909.22" cy="1852.18" r="2.6"/><circle cx="916.88" cy="1852.18" r="2.6"/><circle cx="931.88" cy="1852.18" r="2.6"/><circle cx="938" cy="1852.18" r="2.6"/><circle cx="943.51" cy="1852.18" r="2.6"/><circle cx="946.91" cy="1852.18" r="2.6"/><circle cx="950.31" cy="1852.18" r="2.6"/><circle cx="953.71" cy="1852.18" r="2.6"/><circle cx="957.12" cy="1852.18" r="2.6"/><circle cx="960.52" cy="1852.18" r="2.6"/><circle cx="963.92" cy="1852.18" r="2.6"/><circle cx="967.32" cy="1852.18" r="2.6"/><circle cx="970.72" cy="1852.18" r="2.6"/><circle cx="974.12" cy="1852.18" r="2.6"/><circle cx="977.52" cy="1852.18" r="2.6"/><circle cx="980.93" cy="1852.18" r="2.6"/><circle cx="984.33" cy="1852.18" r="2.6"/><circle cx="987.73" cy="1852.18" r="2.6"/><circle cx="991.13" cy="1852.18" r="2.6"/><circle cx="994.53" cy="1852.18" r="2.6"/><circle cx="997.93" cy="1852.18" r="2.6"/><circle cx="1001.33" cy="1852.18" r="2.6"/><circle cx="1004.73" cy="1852.18" r="2.6"/><circle cx="1010.24" cy="1852.18" r="2.6"/><circle cx="1013.92" cy="1852.18" r="2.6"/><circle cx="1020.04" cy="1852.18" r="2.6"/><circle cx="1024.63" cy="1852.18" r="2.6"/><circle cx="1029.84" cy="1852.18" r="2.6"/><circle cx="1034.12" cy="1852.18" r="2.6"/><circle cx="1038.41" cy="1852.18" r="2.6"/><circle cx="1044.53" cy="1852.18" r="2.6"/><circle cx="1046.06" cy="1852.18" r="2.6"/><circle cx="1062.59" cy="1852.18" r="2.6"/><circle cx="1071.47" cy="1852.18" r="2.6"/><circle cx="1075.14" cy="1852.18" r="2.6"/><circle cx="847.08" cy="1870.88" r="2.6"/><circle cx="853.82" cy="1870.88" r="2.6"/><circle cx="923.31" cy="1870.88" r="2.6"/><circle cx="938.92" cy="1870.88" r="2.6"/><circle cx="941.98" cy="1870.88" r="2.6"/><circle cx="968.92" cy="1870.88" r="2.6"/><circle cx="981.16" cy="1870.88" r="2.6"/><circle cx="986.06" cy="1870.88" r="2.6"/><circle cx="990.96" cy="1870.88" r="2.6"/><circle cx="995.55" cy="1870.88" r="2.6"/><circle cx="1003.2" cy="1870.88" r="2.6"/><circle cx="1031.67" cy="1870.88" r="2.6"/><circle cx="897.59" cy="1901.9" r="2.6"/><circle cx="901.57" cy="1901.9" r="2.6"/><circle cx="910.76" cy="1901.9" r="2.6"/><circle cx="918.1" cy="1901.9" r="2.6"/><circle cx="920.55" cy="1901.9" r="2.6"/><circle cx="926.67" cy="1901.9" r="2.6"/><circle cx="928.51" cy="1901.9" r="2.6"/><circle cx="943.51" cy="1901.9" r="2.6"/><circle cx="949.63" cy="1901.9" r="2.6"/><circle cx="956.37" cy="1901.9" r="2.6"/><circle cx="958.82" cy="1901.9" r="2.6"/><circle cx="961.27" cy="1901.9" r="2.6"/><circle cx="970.45" cy="1901.9" r="2.6"/><circle cx="978.1" cy="1901.9" r="2.6"/><circle cx="981.62" cy="1901.9" r="2.6"/><circle cx="985.14" cy="1901.9" r="2.6"/><circle cx="988.66" cy="1901.9" r="2.6"/><circle cx="992.18" cy="1901.9" r="2.6"/><circle cx="995.7" cy="1901.9" r="2.6"/><circle cx="999.22" cy="1901.9" r="2.6"/><circle cx="1002.74" cy="1901.9" r="2.6"/><circle cx="1006.27" cy="1901.9" r="2.6"/><circle cx="1012.39" cy="1901.9" r="2.6"/><circle cx="1015.91" cy="1901.9" r="2.6"/><circle cx="1019.43" cy="1901.9" r="2.6"/><circle cx="1022.95" cy="1901.9" r="2.6"/><circle cx="1026.47" cy="1901.9" r="2.6"/><circle cx="1029.99" cy="1901.9" r="2.6"/><circle cx="1033.51" cy="1901.9" r="2.6"/><circle cx="1037.03" cy="1901.9" r="2.6"/><circle cx="1040.55" cy="1901.9" r="2.6"/><circle cx="1044.07" cy="1901.9" r="2.6"/><circle cx="1047.59" cy="1901.9" r="2.6"/><circle cx="1055.24" cy="1901.9" r="2.6"/><circle cx="1060.14" cy="1901.9" r="2.6"/><circle cx="1065.04" cy="1901.9" r="2.6"/><circle cx="1076.06" cy="1901.9" r="2.6"/><circle cx="1095.35" cy="1901.9" r="2.6"/><circle cx="1105.45" cy="1901.9" r="2.6"/><circle cx="1121.67" cy="1901.9" r="2.6"/><circle cx="968.92" cy="1920.6" r="2.6"/><circle cx="974.73" cy="1920.6" r="2.6"/><circle cx="978.61" cy="1920.6" r="2.6"/><circle cx="982.49" cy="1920.6" r="2.6"/><circle cx="986.37" cy="1920.6" r="2.6"/><circle cx="992.49" cy="1920.6" r="2.6"/><circle cx="996.01" cy="1920.6" r="2.6"/><circle cx="999.53" cy="1920.6" r="2.6"/><circle cx="1003.05" cy="1920.6" r="2.6"/><circle cx="1006.57" cy="1920.6" r="2.6"/><circle cx="1010.09" cy="1920.6" r="2.6"/><circle cx="1013.61" cy="1920.6" r="2.6"/><circle cx="1017.13" cy="1920.6" r="2.6"/><circle cx="1020.65" cy="1920.6" r="2.6"/><circle cx="1024.17" cy="1920.6" r="2.6"/><circle cx="1027.69" cy="1920.6" r="2.6"/><circle cx="1030.76" cy="1920.6" r="2.6"/><circle cx="1034.03" cy="1920.6" r="2.6"/><circle cx="1037.31" cy="1920.6" r="2.6"/><circle cx="1040.59" cy="1920.6" r="2.6"/><circle cx="1043.87" cy="1920.6" r="2.6"/><circle cx="1047.15" cy="1920.6" r="2.6"/><circle cx="1050.43" cy="1920.6" r="2.6"/><circle cx="1053.71" cy="1920.6" r="2.6"/><circle cx="1058.31" cy="1920.6" r="2.6"/><circle cx="1070.55" cy="1920.6" r="2.6"/><circle cx="1073" cy="1920.6" r="2.6"/><circle cx="1085.86" cy="1920.6" r="2.6"/><circle cx="1098.1" cy="1920.6" r="2.6"/><circle cx="1101.16" cy="1920.6" r="2.6"/><circle cx="892.39" cy="2001.34" r="2.6"/><circle cx="899.73" cy="2001.34" r="2.6"/><circle cx="904.63" cy="2001.34" r="2.6"/><circle cx="909.22" cy="2001.34" r="2.6"/><circle cx="913.82" cy="2001.34" r="2.6"/><circle cx="921.47" cy="2001.34" r="2.6"/><circle cx="925.91" cy="2001.34" r="2.6"/><circle cx="930.35" cy="2001.34" r="2.6"/><circle cx="938" cy="2001.34" r="2.6"/><circle cx="941.44" cy="2001.34" r="2.6"/><circle cx="944.89" cy="2001.34" r="2.6"/><circle cx="948.33" cy="2001.34" r="2.6"/><circle cx="951.78" cy="2001.34" r="2.6"/><circle cx="958.2" cy="2001.34" r="2.6"/><circle cx="960.96" cy="2001.34" r="2.6"/><circle cx="967.39" cy="2001.34" r="2.6"/><circle cx="974.12" cy="2001.34" r="2.6"/><circle cx="977.44" cy="2001.34" r="2.6"/><circle cx="980.76" cy="2001.34" r="2.6"/><circle cx="984.07" cy="2001.34" r="2.6"/><circle cx="987.39" cy="2001.34" r="2.6"/><circle cx="990.7" cy="2001.34" r="2.6"/><circle cx="994.02" cy="2001.34" r="2.6"/><circle cx="1004.73" cy="2001.34" r="2.6"/><circle cx="1009.33" cy="2001.34" r="2.6"/><circle cx="1014.68" cy="2001.34" r="2.6"/><circle cx="1020.04" cy="2001.34" r="2.6"/><circle cx="1029.84" cy="2001.34" r="2.6"/><circle cx="1034.58" cy="2001.34" r="2.6"/><circle cx="1039.33" cy="2001.34" r="2.6"/><circle cx="1045.45" cy="2001.34" r="2.6"/><circle cx="1049.53" cy="2001.34" r="2.6"/><circle cx="1053.61" cy="2001.34" r="2.6"/><circle cx="1057.69" cy="2001.34" r="2.6"/><circle cx="1062.9" cy="2001.34" r="2.6"/><circle cx="1065.96" cy="2001.34" r="2.6"/><circle cx="1069.02" cy="2001.34" r="2.6"/><circle cx="1072.08" cy="2001.34" r="2.6"/><circle cx="1075.14" cy="2001.34" r="2.6"/><circle cx="1078.2" cy="2001.34" r="2.6"/><circle cx="1082.8" cy="2001.34" r="2.6"/><circle cx="1085.86" cy="2001.34" r="2.6"/><circle cx="1088.92" cy="2001.34" r="2.6"/><circle cx="1091.98" cy="2001.34" r="2.6"/><circle cx="1095.04" cy="2001.34" r="2.6"/><circle cx="1098.1" cy="2001.34" r="2.6"/><circle cx="1112.49" cy="2001.34" r="2.6"/><circle cx="1115.55" cy="2001.34" r="2.6"/><circle cx="1130.24" cy="2001.34" r="2.6"/><circle cx="853.82" cy="2020.04" r="2.6"/><circle cx="898.2" cy="2020.04" r="2.6"/><circle cx="911.98" cy="2020.04" r="2.6"/><circle cx="1025.86" cy="2020.04" r="2.6"/><circle cx="1036.88" cy="2020.04" r="2.6"/><circle cx="1041.47" cy="2020.04" r="2.6"/><circle cx="1055.24" cy="2020.04" r="2.6"/><circle cx="1058.31" cy="2020.04" r="2.6"/><circle cx="1061.37" cy="2020.04" r="2.6"/><circle cx="1067.49" cy="2020.04" r="2.6"/><circle cx="1073.61" cy="2020.04" r="2.6"/><circle cx="1081.57" cy="2020.04" r="2.6"/><circle cx="1092.29" cy="2020.04" r="2.6"/><circle cx="1121.67" cy="2020.04" r="2.6"/><circle cx="889.94" cy="2051.06" r="2.6"/><circle cx="911.37" cy="2051.06" r="2.6"/><circle cx="913.51" cy="2051.06" r="2.6"/><circle cx="929.73" cy="2051.06" r="2.6"/><circle cx="938.92" cy="2051.06" r="2.6"/><circle cx="941.98" cy="2051.06" r="2.6"/><circle cx="945.04" cy="2051.06" r="2.6"/><circle cx="950.55" cy="2051.06" r="2.6"/><circle cx="954.02" cy="2051.06" r="2.6"/><circle cx="957.49" cy="2051.06" r="2.6"/><circle cx="960.96" cy="2051.06" r="2.6"/><circle cx="964.43" cy="2051.06" r="2.6"/><circle cx="967.9" cy="2051.06" r="2.6"/><circle cx="971.37" cy="2051.06" r="2.6"/><circle cx="974.84" cy="2051.06" r="2.6"/><circle cx="978.31" cy="2051.06" r="2.6"/><circle cx="981.78" cy="2051.06" r="2.6"/><circle cx="986.37" cy="2051.06" r="2.6"/><circle cx="992.49" cy="2051.06" r="2.6"/><circle cx="997.54" cy="2051.06" r="2.6"/><circle cx="1002.59" cy="2051.06" r="2.6"/><circle cx="1007.8" cy="2051.06" r="2.6"/><circle cx="1011.16" cy="2051.06" r="2.6"/><circle cx="1014.53" cy="2051.06" r="2.6"/><circle cx="1017.9" cy="2051.06" r="2.6"/><circle cx="1021.27" cy="2051.06" r="2.6"/><circle cx="1024.63" cy="2051.06" r="2.6"/><circle cx="1032.29" cy="2051.06" r="2.6"/><circle cx="1039.33" cy="2051.06" r="2.6"/><circle cx="1044.53" cy="2051.06" r="2.6"/><circle cx="1047.59" cy="2051.06" r="2.6"/><circle cx="1050.65" cy="2051.06" r="2.6"/><circle cx="1055.86" cy="2051.06" r="2.6"/><circle cx="1059.1" cy="2051.06" r="2.6"/><circle cx="1062.35" cy="2051.06" r="2.6"/><circle cx="1065.59" cy="2051.06" r="2.6"/><circle cx="1068.84" cy="2051.06" r="2.6"/><circle cx="1072.08" cy="2051.06" r="2.6"/><circle cx="1076.06" cy="2051.06" r="2.6"/><circle cx="1079.12" cy="2051.06" r="2.6"/><circle cx="1082.18" cy="2051.06" r="2.6"/><circle cx="1105.76" cy="2051.06" r="2.6"/><circle cx="1107.9" cy="2051.06" r="2.6"/><circle cx="1116.78" cy="2051.06" r="2.6"/><circle cx="847.08" cy="2069.76" r="2.6"/><circle cx="853.82" cy="2069.76" r="2.6"/><circle cx="933.1" cy="2069.76" r="2.6"/><circle cx="945.96" cy="2069.76" r="2.6"/><circle cx="948.1" cy="2069.76" r="2.6"/><circle cx="955.14" cy="2069.76" r="2.6"/><circle cx="957.29" cy="2069.76" r="2.6"/><circle cx="974.12" cy="2069.76" r="2.6"/><circle cx="978.1" cy="2069.76" r="2.6"/><circle cx="989.73" cy="2069.76" r="2.6"/><circle cx="997.69" cy="2069.76" r="2.6"/><circle cx="1001.67" cy="2069.76" r="2.6"/><circle cx="1019.73" cy="2069.76" r="2.6"/><circle cx="1028" cy="2069.76" r="2.6"/><circle cx="1046.67" cy="2069.76" r="2.6"/><circle cx="1037.8" cy="2249.95" r="2.6"/><circle cx="1077.9" cy="2249.95" r="2.6"/><circle cx="853.82" cy="2268.65" r="2.6"/><circle cx="894.22" cy="2268.65" r="2.6"/><circle cx="910.14" cy="2268.65" r="2.6"/><circle cx="920.55" cy="2268.65" r="2.6"/><circle cx="923.61" cy="2268.65" r="2.6"/><circle cx="929.12" cy="2268.65" r="2.6"/><circle cx="934.33" cy="2268.65" r="2.6"/><circle cx="938.92" cy="2268.65" r="2.6"/><circle cx="953.31" cy="2268.65" r="2.6"/><circle cx="957.18" cy="2268.65" r="2.6"/><circle cx="961.06" cy="2268.65" r="2.6"/><circle cx="964.94" cy="2268.65" r="2.6"/><circle cx="976.27" cy="2268.65" r="2.6"/><circle cx="980.55" cy="2268.65" r="2.6"/><circle cx="984.84" cy="2268.65" r="2.6"/><circle cx="1002.29" cy="2268.65" r="2.6"/><circle cx="1014.53" cy="2268.65" r="2.6"/><circle cx="1020.04" cy="2268.65" r="2.6"/><circle cx="1027.69" cy="2268.65" r="2.6"/><circle cx="1033.2" cy="2268.65" r="2.6"/><circle cx="900.35" cy="2349.4" r="2.6"/><circle cx="911.98" cy="2349.4" r="2.6"/><circle cx="934.33" cy="2349.4" r="2.6"/><circle cx="938.15" cy="2349.4" r="2.6"/><circle cx="941.98" cy="2349.4" r="2.6"/><circle cx="947.49" cy="2349.4" r="2.6"/><circle cx="952.69" cy="2349.4" r="2.6"/><circle cx="958.2" cy="2349.4" r="2.6"/><circle cx="961.49" cy="2349.4" r="2.6"/><circle cx="964.79" cy="2349.4" r="2.6"/><circle cx="968.08" cy="2349.4" r="2.6"/><circle cx="971.37" cy="2349.4" r="2.6"/><circle cx="974.66" cy="2349.4" r="2.6"/><circle cx="977.95" cy="2349.4" r="2.6"/><circle cx="981.24" cy="2349.4" r="2.6"/><circle cx="984.53" cy="2349.4" r="2.6"/><circle cx="987.82" cy="2349.4" r="2.6"/><circle cx="991.11" cy="2349.4" r="2.6"/><circle cx="994.4" cy="2349.4" r="2.6"/><circle cx="997.69" cy="2349.4" r="2.6"/><circle cx="1000.98" cy="2349.4" r="2.6"/><circle cx="1004.28" cy="2349.4" r="2.6"/><circle cx="1007.57" cy="2349.4" r="2.6"/><circle cx="1010.86" cy="2349.4" r="2.6"/><circle cx="1014.84" cy="2349.4" r="2.6"/><circle cx="1018.31" cy="2349.4" r="2.6"/><circle cx="1021.78" cy="2349.4" r="2.6"/><circle cx="1025.24" cy="2349.4" r="2.6"/><circle cx="1028.71" cy="2349.4" r="2.6"/><circle cx="1032.18" cy="2349.4" r="2.6"/><circle cx="1035.65" cy="2349.4" r="2.6"/><circle cx="1039.12" cy="2349.4" r="2.6"/><circle cx="1042.59" cy="2349.4" r="2.6"/><circle cx="1046.06" cy="2349.4" r="2.6"/><circle cx="1052.18" cy="2349.4" r="2.6"/><circle cx="1055.24" cy="2349.4" r="2.6"/><circle cx="1058.31" cy="2349.4" r="2.6"/><circle cx="1061.37" cy="2349.4" r="2.6"/><circle cx="1066.27" cy="2349.4" r="2.6"/><circle cx="849.84" cy="2399.12" r="2.6"/><circle cx="914.43" cy="2399.12" r="2.6"/><circle cx="930.04" cy="2399.12" r="2.6"/><circle cx="939.84" cy="2399.12" r="2.6"/><circle cx="949.63" cy="2399.12" r="2.6"/><circle cx="952.69" cy="2399.12" r="2.6"/><circle cx="970.45" cy="2399.12" r="2.6"/><circle cx="976.27" cy="2399.12" r="2.6"/><circle cx="979.33" cy="2399.12" r="2.6"/><circle cx="987.9" cy="2399.12" r="2.6"/><circle cx="992.18" cy="2399.12" r="2.6"/><circle cx="996.47" cy="2399.12" r="2.6"/><circle cx="1005.96" cy="2399.12" r="2.6"/><circle cx="1013.92" cy="2399.12" r="2.6"/><circle cx="1016.98" cy="2399.12" r="2.6"/><circle cx="1020.04" cy="2399.12" r="2.6"/><circle cx="1023.1" cy="2399.12" r="2.6"/><circle cx="1026.16" cy="2399.12" r="2.6"/><circle cx="1029.22" cy="2399.12" r="2.6"/><circle cx="1038.41" cy="2399.12" r="2.6"/><circle cx="1041.69" cy="2399.12" r="2.6"/><circle cx="1044.97" cy="2399.12" r="2.6"/><circle cx="1048.25" cy="2399.12" r="2.6"/><circle cx="1051.53" cy="2399.12" r="2.6"/><circle cx="1054.81" cy="2399.12" r="2.6"/><circle cx="1058.09" cy="2399.12" r="2.6"/><circle cx="1061.37" cy="2399.12" r="2.6"/><circle cx="1065.96" cy="2399.12" r="2.6"/><circle cx="1071.47" cy="2399.12" r="2.6"/><circle cx="1076.83" cy="2399.12" r="2.6"/><circle cx="1082.18" cy="2399.12" r="2.6"/><circle cx="1086.78" cy="2399.12" r="2.6"/><circle cx="1098.71" cy="2399.12" r="2.6"/><circle cx="1101.47" cy="2399.12" r="2.6"/><circle cx="1104.22" cy="2399.12" r="2.6"/><circle cx="1108.2" cy="2399.12" r="2.6"/><circle cx="844.02" cy="2417.82" r="2.6"/><circle cx="847.08" cy="2417.82" r="2.6"/><circle cx="853.82" cy="2417.82" r="2.6"/><circle cx="1039.94" cy="2417.82" r="2.6"/><circle cx="859.33" cy="2448.84" r="2.6"/><circle cx="870.96" cy="2448.84" r="2.6"/><circle cx="872.8" cy="2448.84" r="2.6"/><circle cx="881.37" cy="2448.84" r="2.6"/><circle cx="897.9" cy="2448.84" r="2.6"/><circle cx="906.47" cy="2448.84" r="2.6"/><circle cx="913.82" cy="2448.84" r="2.6"/><circle cx="917.18" cy="2448.84" r="2.6"/><circle cx="920.55" cy="2448.84" r="2.6"/><circle cx="926.98" cy="2448.84" r="2.6"/><circle cx="934.33" cy="2448.84" r="2.6"/><circle cx="938.92" cy="2448.84" r="2.6"/><circle cx="945.96" cy="2448.84" r="2.6"/><circle cx="949.33" cy="2448.84" r="2.6"/><circle cx="952.69" cy="2448.84" r="2.6"/><circle cx="956.06" cy="2448.84" r="2.6"/><circle cx="959.43" cy="2448.84" r="2.6"/><circle cx="962.8" cy="2448.84" r="2.6"/><circle cx="968" cy="2448.84" r="2.6"/><circle cx="971.37" cy="2448.84" r="2.6"/><circle cx="974.73" cy="2448.84" r="2.6"/><circle cx="978.1" cy="2448.84" r="2.6"/><circle cx="981.47" cy="2448.84" r="2.6"/><circle cx="984.84" cy="2448.84" r="2.6"/><circle cx="990.04" cy="2448.84" r="2.6"/><circle cx="997.08" cy="2448.84" r="2.6"/><circle cx="1001.67" cy="2448.84" r="2.6"/><circle cx="1006.27" cy="2448.84" r="2.6"/><circle cx="1009.33" cy="2448.84" r="2.6"/><circle cx="1012.39" cy="2448.84" r="2.6"/><circle cx="1016.98" cy="2448.84" r="2.6"/><circle cx="1020.5" cy="2448.84" r="2.6"/><circle cx="1024.02" cy="2448.84" r="2.6"/><circle cx="1032.59" cy="2448.84" r="2.6"/><circle cx="1042.39" cy="2448.84" r="2.6"/><circle cx="1044.22" cy="2448.84" r="2.6"/><circle cx="1056.16" cy="2448.84" r="2.6"/><circle cx="1063.51" cy="2448.84" r="2.6"/><circle cx="1086.16" cy="2448.84" r="2.6"/><circle cx="847.08" cy="2467.54" r="2.6"/><circle cx="853.82" cy="2467.54" r="2.6"/><circle cx="922.69" cy="2467.54" r="2.6"/><circle cx="929.73" cy="2467.54" r="2.6"/><circle cx="931.88" cy="2467.54" r="2.6"/><circle cx="947.18" cy="2467.54" r="2.6"/><circle cx="959.12" cy="2467.54" r="2.6"/><circle cx="1003.2" cy="2467.54" r="2.6"/><circle cx="1016.67" cy="2467.54" r="2.6"/></g>
<path d="M817.39 202.8H1034.43V219.9H817.39ZM806.67 252.52H987.59V269.62H806.67ZM970.76 302.24H1062.29V319.34H970.76ZM829.94 351.97H1069.02V369.07H829.94ZM812.18 401.69H973.82V418.79H812.18ZM967.08 451.41H1022.8V468.51H967.08ZM806.98 501.13H971.37V518.23H806.98ZM825.96 550.85H1055.86V567.95H825.96ZM806.06 600.58H1031.67V617.68H806.06ZM943.82 650.3H1078.2V667.4H943.82ZM816.78 700.02H1052.49V717.12H816.78ZM812.18 749.74H996.16V766.84H812.18ZM807.59 799.46H1027.08V816.56H807.59ZM993.1 849.19H1091.06V866.29H993.1ZM810.96 898.91H1006.88V916.01H810.96ZM805.14 948.63H953.61V965.73H805.14ZM813.1 998.35H1033.2V1015.45H813.1ZM808.2 1048.07H992.18V1065.17H808.2ZM805.76 1097.8H1015.76V1114.9H805.76ZM806.67 1147.52H965.86V1164.62H806.67ZM955.45 1197.24H1075.14V1214.34H955.45ZM804.22 1246.96H837.29V1264.06H804.22ZM808.2 1296.68H990.35V1313.78H808.2ZM814.94 1346.41H1023.71V1363.51H814.94ZM804.22 1396.13H954.22V1413.23H804.22ZM801.47 1445.85H824.12V1462.95H801.47ZM804.22 1495.57H834.84V1512.67H804.22ZM1014.84 1545.29H1061.37V1562.39H1014.84ZM1032.59 1595.02H1079.43V1612.12H1032.59ZM955.45 1644.74H1057.08V1661.84H955.45ZM803.92 1694.46H832.08V1711.56H803.92ZM803.92 1744.18H976.27V1761.28H803.92ZM907.69 1793.9H1015.76V1811H907.69ZM802.39 1843.63H824.43V1860.73H802.39ZM800.86 1893.35H824.12V1910.45H800.86ZM805.76 1943.07H982.69V1960.17H805.76ZM802.39 1992.79H825.96V2009.89H802.39ZM802.08 2042.51H824.12V2059.61H802.08ZM820.45 2092.24H1029.22V2109.34H820.45ZM804.22 2141.96H1012.39V2159.06H804.22ZM814.63 2191.68H937.08V2208.78H814.63ZM803 2241.4H896.06V2258.5H803ZM812.8 2291.12H1035.96V2308.22H812.8ZM802.39 2340.85H834.84V2357.95H802.39ZM800.86 2390.57H820.45V2407.67H800.86ZM801.78 2440.29H821.37V2457.39H801.78Z" fill="#00BFC4" stroke="#333333" stroke-width="2.05" stroke-linejoin="round"/>
<path d="M838.82 221.7H1063.2V238.4H838.82ZM808.2 271.42H832.08V288.12H808.2ZM1019.12 321.14H1084.63V337.84H1019.12ZM1018.51 370.87H1082.49V387.57H1018.51ZM810.04 420.59H941.06V437.29H810.04ZM848.61 470.31H1014.22V487.01H848.61ZM806.67 520.03H825.65V536.73H806.67ZM986.98 569.75H1067.49V586.45H986.98ZM806.98 619.48H832.39V636.18H806.98ZM966.78 669.2H1095.96V685.9H966.78ZM824.73 718.92H1076.06V735.62H824.73ZM812.49 768.64H965.24V785.34H812.49ZM808.82 818.36H964.02V835.06H808.82ZM1047.29 868.09H1105.14V884.79H1047.29ZM809.12 917.81H989.43V934.51H809.12ZM806.37 967.53H840.04V984.23H806.37ZM811.88 1017.25H1007.8V1033.95H811.88ZM814.33 1066.97H1021.88V1083.67H814.33ZM809.43 1116.7H1060.14V1133.4H809.43ZM806.37 1166.42H827.18V1183.12H806.37ZM837.59 1216.14H1062.59V1232.84H837.59ZM810.04 1265.86H1031.06V1282.56H810.04ZM807.29 1315.58H974.12V1332.28H807.29ZM823.51 1365.31H1043.61V1382.01H823.51ZM809.43 1415.03H967.39V1431.73H809.43ZM806.06 1464.75H837.29V1481.45H806.06ZM804.22 1514.47H823.82V1531.17H804.22ZM1005.96 1564.19H1047.29V1580.89H1005.96ZM986.98 1613.92H1074.84V1630.62H986.98ZM864.22 1663.64H1046.67V1680.34H864.22ZM804.84 1713.36H822.9V1730.06H804.84ZM805.76 1763.08H830.55V1779.78H805.76ZM818.92 1812.8H1004.43V1829.5H818.92ZM803 1862.53H821.06V1879.23H803ZM805.14 1912.25H867.29V1928.95H805.14ZM808.82 1961.97H1013.31V1978.67H808.82ZM803 2011.69H821.67V2028.39H803ZM803.61 2061.41H821.06V2078.11H803.61ZM824.43 2111.14H1043.31V2127.84H824.43ZM811.57 2160.86H1025.24V2177.56H811.57ZM813.41 2210.58H919.94V2227.28H813.41ZM804.22 2260.3H823.51V2277H804.22ZM818.31 2310.02H1048.51V2326.72H818.31ZM805.14 2359.75H986.67V2376.45H805.14ZM803 2409.47H819.22V2426.17H803ZM803 2459.19H820.14V2475.89H803Z" fill="#E69F00" stroke="#333333" stroke-width="2.05" stroke-linejoin="round"/>
<path d="M981.78 202.8V219.9M1020.35 221.7V238.4M821.06 252.52V269.62M816.78 271.42V288.12M1017.29 302.24V319.34M1050.65 321.14V337.84M1045.14 351.97V369.07M1065.04 370.87V387.57M927.9 401.69V418.79M819.84 420.59V437.29M1001.67 451.41V468.51M981.16 470.31V487.01M820.14 501.13V518.23M814.33 520.03V536.73M1022.18 550.85V567.95M1043 569.75V586.45M818.92 600.58V617.68M815.24 619.48V636.18M1020.04 650.3V667.4M1060.45 669.2V685.9M979.33 700.02V717.12M1022.8 718.92V735.62M934.94 749.74V766.84M827.8 768.64V785.34M821.98 799.46V816.56M818.61 818.36V835.06M1065.04 849.19V866.29M1087.69 868.09V884.79M829.33 898.91V916.01M821.98 917.81V934.51M815.86 948.63V965.73M814.63 967.53V984.23M963.71 998.35V1015.45M825.35 1017.25V1033.95M823.51 1048.07V1065.17M885.04 1066.97V1083.67M818.61 1097.8V1114.9M826.27 1116.7V1133.4M820.76 1147.52V1164.62M814.94 1166.42V1183.12M1035.96 1197.24V1214.34M1028.61 1216.14V1232.84M814.94 1246.96V1264.06M823.82 1265.86V1282.56M922.08 1296.68V1313.78M821.98 1315.58V1332.28M963.71 1346.41V1363.51M997.39 1365.31V1382.01M816.16 1396.13V1413.23M827.8 1415.03V1431.73M809.73 1445.85V1462.95M814.63 1464.75V1481.45M813.71 1495.57V1512.67M813.1 1514.47V1531.17M1035.96 1545.29V1562.39M1026.16 1564.19V1580.89M1055.55 1595.02V1612.12M1052.18 1613.92V1630.62M1018.51 1644.74V1661.84M1011.78 1663.64V1680.34M813.71 1694.46V1711.56M813.41 1713.36V1730.06M814.94 1744.18V1761.28M814.33 1763.08V1779.78M981.47 1793.9V1811M967.08 1812.8V1829.5M811.27 1843.63V1860.73M812.18 1862.53V1879.23M810.04 1893.35V1910.45M814.33 1912.25V1928.95M819.53 1943.07V1960.17M824.73 1961.97V1978.67M812.18 1992.79V2009.89M812.49 2011.69V2028.39M811.57 2042.51V2059.61M812.49 2061.41V2078.11M996.16 2092.24V2109.34M1022.8 2111.14V2127.84M820.76 2141.96V2159.06M834.84 2160.86V2177.56M894.84 2191.68V2208.78M825.04 2210.58V2227.28M814.02 2241.4V2258.5M813.71 2260.3V2277M834.84 2291.12V2308.22M997.69 2310.02V2326.72M812.18 2340.85V2357.95M816.47 2359.75V2376.45M809.12 2390.57V2407.67M810.96 2409.47V2426.17M810.35 2440.29V2457.39M811.57 2459.19V2475.89" stroke="#333333" stroke-width="4.6" fill="none"/>
<path d="M1437.3 191V2490" stroke="#7F7F7F" stroke-width="2.7" stroke-dasharray="8.2 8.412" stroke-dashoffset="4.1" fill="none"/>
<path d="M1254.86 211.55H1405.47M1316.08 310.99H1408.53M1297.41 360.72H1420.47M1334.45 559.6H1421.08M1341.8 659.05H1427.51M1334.14 708.77H1429.65M1364.76 857.94H1426.29M1365.06 1056.82H1428.43M1359.24 1106.55H1430.88M1380.37 1255.71H1425.67M1365.98 1355.16H1431.8M1369.35 1404.88H1431.49M1386.8 1454.6H1426.9M1394.14 1902.1H1432.1M1389.86 1951.82H1434.24M1389.24 2100.99H1435.16M1387.1 2150.71H1436.08M1391.08 2299.87H1436.69M1400.27 2349.6H1433.63" stroke="#FF0000" stroke-width="3.0" fill="none"/>
<path d="M1384.04 230.05H1233.12M1399.35 329.49H1259.14M1406.08 379.22H1234.04M1403.63 578.1H1233.12M1415.57 677.55H1268.94M1422.61 727.27H1244.76M1422.61 876.44H1333.84M1416.8 1075.32H1251.8M1419.55 1125.05H1235.27M1401.18 1274.21H1235.57M1423.53 1373.66H1282.71M1423.22 1423.38H1276.29M1420.47 1473.1H1311.18M1427.2 1920.6H1337.51M1430.27 1970.32H1320.67M1433.02 2119.49H1329.86M1428.73 2169.21H1300.16M1429.96 2318.37H1295.88M1429.04 2368.1H1338.12" stroke="#FF0000" stroke-width="3.0" stroke-dasharray="3.45 2.8" fill="none"/>
<g fill="#FF0000"><rect x="1349.44" y="206.95" width="9.2" height="9.2"/><rect x="1369.03" y="306.39" width="9.2" height="9.2"/><rect x="1375.16" y="356.12" width="9.2" height="9.2"/><rect x="1385.56" y="555" width="9.2" height="9.2"/><rect x="1393.22" y="654.45" width="9.2" height="9.2"/><rect x="1393.83" y="704.17" width="9.2" height="9.2"/><rect x="1398.73" y="853.34" width="9.2" height="9.2"/><rect x="1400.56" y="1052.22" width="9.2" height="9.2"/><rect x="1401.18" y="1101.95" width="9.2" height="9.2"/><rect x="1403.01" y="1251.11" width="9.2" height="9.2"/><rect x="1403.93" y="1350.56" width="9.2" height="9.2"/><rect x="1404.54" y="1400.28" width="9.2" height="9.2"/><rect x="1405.77" y="1450" width="9.2" height="9.2"/><rect x="1412.5" y="1897.5" width="9.2" height="9.2"/><rect x="1412.81" y="1947.22" width="9.2" height="9.2"/><rect x="1413.11" y="2096.39" width="9.2" height="9.2"/><rect x="1413.73" y="2146.11" width="9.2" height="9.2"/><rect x="1415.26" y="2295.27" width="9.2" height="9.2"/><rect x="1415.56" y="2345" width="9.2" height="9.2"/><circle cx="1288.84" cy="230.05" r="4.55"/><circle cx="1348.84" cy="329.49" r="4.55"/><circle cx="1340.88" cy="379.22" r="4.55"/><circle cx="1338.12" cy="578.1" r="4.55"/><circle cx="1366.9" cy="677.55" r="4.55"/><circle cx="1369.04" cy="727.27" r="4.55"/><circle cx="1390.78" cy="876.44" r="4.55"/><circle cx="1364.76" cy="1075.32" r="4.55"/><circle cx="1359.55" cy="1125.05" r="4.55"/><circle cx="1327.71" cy="1274.21" r="4.55"/><circle cx="1378.53" cy="1373.66" r="4.55"/><circle cx="1376.39" cy="1423.38" r="4.55"/><circle cx="1382.82" cy="1473.1" r="4.55"/><circle cx="1395.98" cy="1920.6" r="4.55"/><circle cx="1395.06" cy="1970.32" r="4.55"/><circle cx="1399.65" cy="2119.49" r="4.55"/><circle cx="1388.33" cy="2169.21" r="4.55"/><circle cx="1389.24" cy="2318.37" r="4.55"/><circle cx="1397.51" cy="2368.1" r="4.55"/></g>
<path d="M1472.82 261.27H1562.51M1469.45 410.44H1532.2M1466.08 460.16H1537.41M1462.71 509.88H1518.12M1447.1 609.33H1539.24M1454.14 758.49H1508.63M1448.02 808.21H1521.18M1447.41 907.66H1512.31M1444.35 957.38H1521.18M1448.02 1007.1H1508.63M1452.31 1156.27H1490.57M1443.43 1205.99H1512.31M1447.41 1305.43H1497.92M1447.1 1504.32H1490.57M1452 1554.04H1479.86M1442.82 1603.77H1500.37M1441.9 1653.49H1501.9M1448.33 1703.21H1485.06M1442.82 1752.93H1485.67M1442.2 1802.65H1486.59M1447.1 1852.38H1472.51M1442.82 2001.54H1479.86M1445.88 2051.26H1473.12M1445.27 2200.43H1471.9M1444.04 2250.15H1470.67M1446.49 2399.32H1464.86M1443.73 2449.04H1469.14" stroke="#0000FF" stroke-width="3.0" fill="none"/>
<path d="M1501.29 279.77H1641.8M1501.29 428.94H1641.8M1469.76 478.66H1596.18M1492.71 528.38H1639.65M1448.33 627.83H1579.35M1457.51 776.99H1571.39M1451.39 826.71H1573.53M1447.41 926.16H1550.27M1443.73 975.88H1540.78M1454.14 1025.6H1626.18M1470.98 1174.77H1580.57M1445.27 1224.49H1554.86M1448.94 1323.93H1545.98M1449.86 1522.82H1520.57M1446.18 1572.54H1474.35M1442.51 1622.27H1515.06M1438.53 1671.99H1516.29M1454.14 1721.71H1507.41M1446.18 1771.43H1543.22M1439.45 1821.15H1515.37M1452.31 1870.88H1493.63M1446.49 2020.04H1500.06M1449.24 2069.76H1494.24M1447.41 2218.93H1494.86M1447.1 2268.65H1497.61M1456.9 2417.82H1497.31M1442.51 2467.54H1464.86" stroke="#0000FF" stroke-width="3.0" stroke-dasharray="3.45 2.8" fill="none"/>
<g fill="#0000FF"><rect x="1502.5" y="256.67" width="9.2" height="9.2"/><rect x="1490.26" y="405.84" width="9.2" height="9.2"/><rect x="1489.64" y="455.56" width="9.2" height="9.2"/><rect x="1480.46" y="505.28" width="9.2" height="9.2"/><rect x="1473.73" y="604.73" width="9.2" height="9.2"/><rect x="1470.97" y="753.89" width="9.2" height="9.2"/><rect x="1469.75" y="803.61" width="9.2" height="9.2"/><rect x="1466.69" y="903.06" width="9.2" height="9.2"/><rect x="1466.07" y="952.78" width="9.2" height="9.2"/><rect x="1466.07" y="1002.5" width="9.2" height="9.2"/><rect x="1463.62" y="1151.67" width="9.2" height="9.2"/><rect x="1463.01" y="1201.39" width="9.2" height="9.2"/><rect x="1462.4" y="1300.83" width="9.2" height="9.2"/><rect x="1459.34" y="1499.72" width="9.2" height="9.2"/><rect x="1459.34" y="1549.44" width="9.2" height="9.2"/><rect x="1459.03" y="1599.17" width="9.2" height="9.2"/><rect x="1458.73" y="1648.89" width="9.2" height="9.2"/><rect x="1458.73" y="1698.61" width="9.2" height="9.2"/><rect x="1454.75" y="1748.33" width="9.2" height="9.2"/><rect x="1454.75" y="1798.05" width="9.2" height="9.2"/><rect x="1453.22" y="1847.78" width="9.2" height="9.2"/><rect x="1452.91" y="1996.94" width="9.2" height="9.2"/><rect x="1452.91" y="2046.66" width="9.2" height="9.2"/><rect x="1452.3" y="2195.83" width="9.2" height="9.2"/><rect x="1450.46" y="2245.55" width="9.2" height="9.2"/><rect x="1450.16" y="2394.72" width="9.2" height="9.2"/><rect x="1449.54" y="2444.44" width="9.2" height="9.2"/><circle cx="1574.76" cy="279.77" r="4.55"/><circle cx="1562.51" cy="428.94" r="4.55"/><circle cx="1514.76" cy="478.66" r="4.55"/><circle cx="1545.37" cy="528.38" r="4.55"/><circle cx="1488.43" cy="627.83" r="4.55"/><circle cx="1496.69" cy="776.99" r="4.55"/><circle cx="1488.43" cy="826.71" r="4.55"/><circle cx="1481.08" cy="926.16" r="4.55"/><circle cx="1474.35" cy="975.88" r="4.55"/><circle cx="1506.18" cy="1025.6" r="4.55"/><circle cx="1509.55" cy="1174.77" r="4.55"/><circle cx="1476.8" cy="1224.49" r="4.55"/><circle cx="1480.16" cy="1323.93" r="4.55"/><circle cx="1475.88" cy="1522.82" r="4.55"/><circle cx="1457.51" cy="1572.54" r="4.55"/><circle cx="1464.24" cy="1622.27" r="4.55"/><circle cx="1463.94" cy="1671.99" r="4.55"/><circle cx="1472.82" cy="1721.71" r="4.55"/><circle cx="1476.49" cy="1771.43" r="4.55"/><circle cx="1464.86" cy="1821.15" r="4.55"/><circle cx="1468.22" cy="1870.88" r="4.55"/><circle cx="1465.47" cy="2020.04" r="4.55"/><circle cx="1467" cy="2069.76" r="4.55"/><circle cx="1464.55" cy="2218.93" r="4.55"/><circle cx="1466.39" cy="2268.65" r="4.55"/><circle cx="1473.73" cy="2417.82" r="4.55"/><circle cx="1451.69" cy="2467.54" r="4.55"/></g>
</svg>
</body></html>
